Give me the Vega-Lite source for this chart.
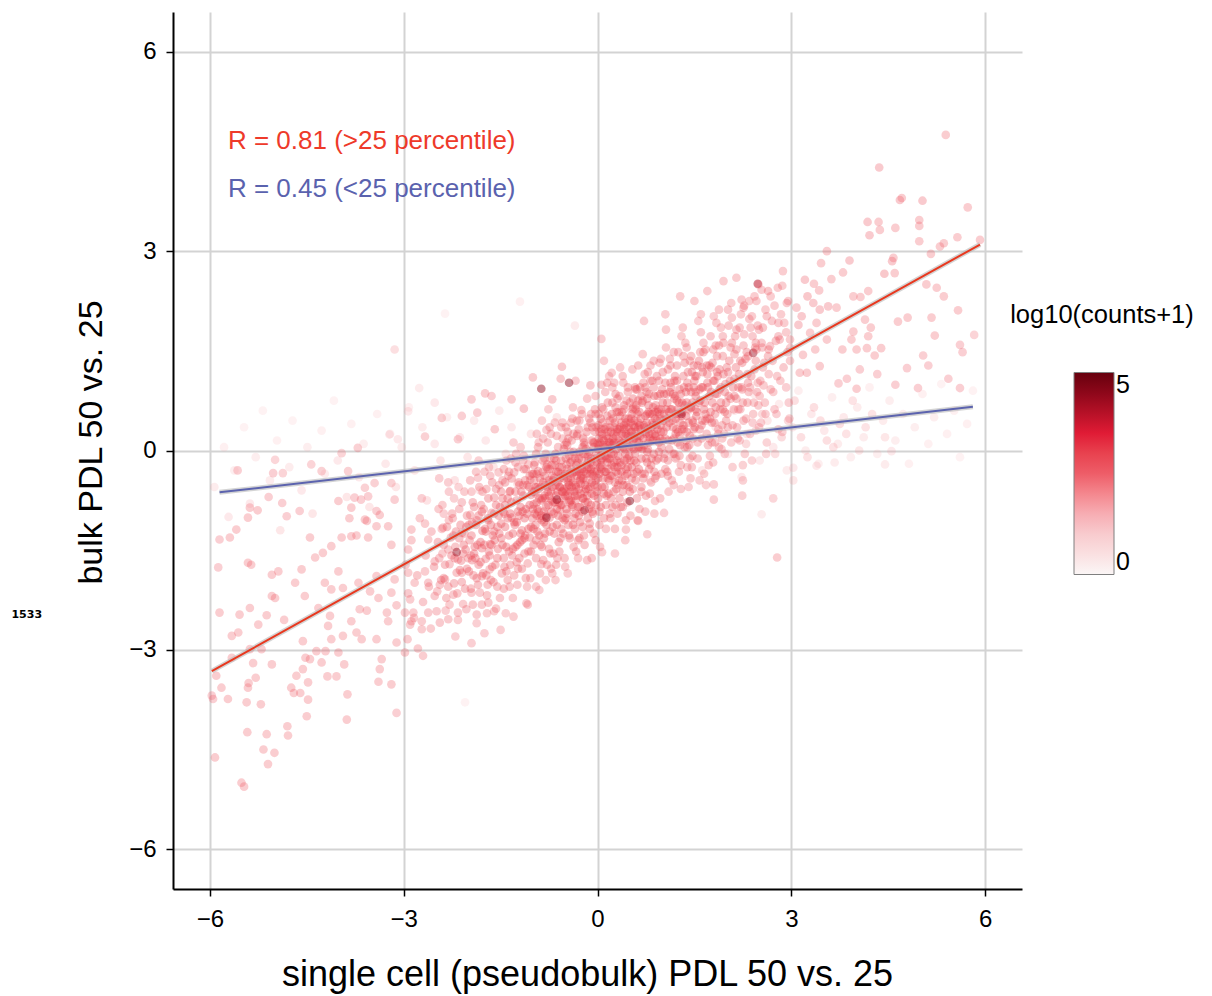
{
"$schema": "https://vega.github.io/schema/vega-lite/v6.json",
"width": 849,
"height": 877,
"autosize": "none",
"padding": {"left": 173, "top": 12, "right": 190, "bottom": 107},
"background": "white",
"config": {
  "view": {"stroke": null},
  "font": "Liberation Sans",
  "axis": {"grid": true, "gridColor": "#d3d3d3", "gridWidth": 2, "domainColor": "#000000", "domainWidth": 2, "tickColor": "#000000", "tickWidth": 1.5, "tickSize": 7, "labelFontSize": 24, "labelColor": "#000000", "labelFont": "Liberation Sans", "titleFont": "Liberation Sans", "titleFontWeight": "normal", "titleColor": "#000000"},
  "axisX": {"titlePadding": 26, "titleFontSize": 36, "labelPadding": 11, "titleX": 414},
  "axisY": {"titlePadding": 20, "titleFontSize": 34, "labelPadding": 10, "titleY": 430},
  "legend": {"orient": "none", "legendX": 837, "legendY": 291, "direction": "vertical", "gradientLength": 202, "gradientThickness": 40, "gradientStrokeColor": "#7f7f7f", "gradientStrokeWidth": 1, "titleFontSize": 25.5, "titleFontWeight": "normal", "titleColor": "#000000", "titleFont": "Liberation Sans", "labelFontSize": 25, "labelFont": "Liberation Sans", "labelColor": "#000000", "labelOffset": 14, "titlePadding": 44, "titleAnchor": "middle", "titleLimit": 300}
},
"datasets": {
"pts": [
{"x":-2.45,"y":-1.62,"c":2.65},{"x":-2.38,"y":-0.95,"c":2.55},{"x":-2.31,"y":-2.05,"c":2.7},{"x":-2.27,"y":-1.31,"c":2.75},{"x":-2.22,"y":-0.72,"c":2.5},{"x":-2.18,"y":-1.84,"c":2.7},{"x":-2.12,"y":-1.12,"c":2.8},{"x":-2.08,"y":-2.31,"c":2.6},{"x":-2.04,"y":-1.49,"c":2.75},{"x":-2.41,"y":-1.18,"c":2.6},{"x":-2.35,"y":-2.41,"c":2.55},{"x":-2.15,"y":-0.55,"c":2.45},{"x":-2.02,"y":-0.98,"c":2.7},{"x":-2.29,"y":-1.71,"c":2.65},{"x":-2.48,"y":-2.12,"c":2.6},{"x":-2.11,"y":-1.66,"c":2.75},{"x":-2.24,"y":-1.02,"c":2.65},
{"x":-1.98,"y":-1.35,"c":2.75},{"x":-1.95,"y":-0.62,"c":2.6},{"x":-1.92,"y":-1.88,"c":2.7},{"x":-1.88,"y":-1.12,"c":2.8},{"x":-1.85,"y":-0.41,"c":2.55},{"x":-1.82,"y":-2.14,"c":2.65},{"x":-1.79,"y":-1.47,"c":2.85},{"x":-1.76,"y":-0.88,"c":2.7},{"x":-1.73,"y":-1.63,"c":2.75},{"x":-1.7,"y":-1.02,"c":2.8},{"x":-1.68,"y":-0.25,"c":2.5},{"x":-1.65,"y":-1.95,"c":2.7},{"x":-1.62,"y":-1.28,"c":2.85},{"x":-1.6,"y":-0.71,"c":2.75},{"x":-1.57,"y":-2.38,"c":2.6},{"x":-1.55,"y":-1.15,"c":2.8},{"x":-1.52,"y":-0.52,"c":2.65},{"x":-1.97,"y":-0.97,"c":2.7},{"x":-1.91,"y":-1.55,"c":2.75},{"x":-1.84,"y":-0.15,"c":2.5},{"x":-1.78,"y":-1.21,"c":2.9},{"x":-1.71,"y":-2.45,"c":2.6},{"x":-1.64,"y":-0.94,"c":2.75},{"x":-1.58,"y":-1.72,"c":2.7},{"x":-1.53,"y":-0.33,"c":2.6},{"x":-1.87,"y":-2.6,"c":2.55},{"x":-1.66,"y":-1.41,"c":2.8},
{"x":-1.49,"y":-1.1,"c":2.85},{"x":-1.47,"y":-0.45,"c":2.65},{"x":-1.45,"y":-1.62,"c":2.75},{"x":-1.43,"y":-0.82,"c":2.8},{"x":-1.41,"y":-0.15,"c":2.55},{"x":-1.39,"y":-1.95,"c":2.7},{"x":-1.37,"y":-1.28,"c":2.85},{"x":-1.35,"y":-0.61,"c":2.75},{"x":-1.33,"y":-1.01,"c":2.9},{"x":-1.31,"y":-2.22,"c":2.6},{"x":-1.29,"y":-0.33,"c":2.65},{"x":-1.27,"y":-1.45,"c":2.8},{"x":-1.25,"y":-0.75,"c":2.75},{"x":-1.23,"y":-1.78,"c":2.7},{"x":-1.21,"y":-0.98,"c":2.85},{"x":-1.19,"y":0.05,"c":2.5},{"x":-1.17,"y":-1.2,"c":2.8},{"x":-1.15,"y":-0.52,"c":2.7},{"x":-1.13,"y":-1.55,"c":2.75},{"x":-1.11,"y":-0.88,"c":2.9},{"x":-1.09,"y":-2.05,"c":2.6},{"x":-1.07,"y":-0.21,"c":2.6},{"x":-1.05,"y":-1.31,"c":2.8},{"x":-1.03,"y":-0.67,"c":2.85},{"x":-1.01,"y":-1.02,"c":2.75},{"x":-1.46,"y":-0.92,"c":2.7},{"x":-1.38,"y":-0.38,"c":2.65},{"x":-1.32,"y":-1.58,"c":2.75},{"x":-1.26,"y":-0.05,"c":2.55},{"x":-1.2,"y":-1.38,"c":2.85},{"x":-1.14,"y":-0.28,"c":2.65},{"x":-1.08,"y":-1.7,"c":2.7},{"x":-1.42,"y":-2.45,"c":2.55},{"x":-1.18,"y":-0.62,"c":2.8},{"x":-1.04,"y":-0.44,"c":2.75},
{"x":-0.99,"y":-0.81,"c":2.85},{"x":-0.97,"y":-0.18,"c":2.65},{"x":-0.95,"y":-1.35,"c":2.75},{"x":-0.93,"y":-0.55,"c":2.9},{"x":-0.91,"y":0.12,"c":2.55},{"x":-0.89,"y":-1.02,"c":2.8},{"x":-0.87,"y":-1.71,"c":2.65},{"x":-0.85,"y":-0.32,"c":2.75},{"x":-0.83,"y":-0.92,"c":2.85},{"x":-0.81,"y":-1.25,"c":2.8},{"x":-0.79,"y":0.31,"c":2.55},{"x":-0.77,"y":-0.62,"c":2.9},{"x":-0.75,"y":-1.48,"c":2.7},{"x":-0.73,"y":-0.12,"c":2.7},{"x":-0.71,"y":-0.75,"c":2.85},{"x":-0.69,"y":-1.15,"c":2.8},{"x":-0.67,"y":-0.41,"c":2.75},{"x":-0.65,"y":-1.95,"c":2.6},{"x":-0.63,"y":-0.88,"c":2.9},{"x":-0.61,"y":0.05,"c":2.65},{"x":-0.59,"y":-0.55,"c":2.8},{"x":-0.57,"y":-1.32,"c":2.75},{"x":-0.55,"y":-0.25,"c":2.7},{"x":-0.53,"y":-0.71,"c":2.95},{"x":-0.51,"y":-1.05,"c":2.8},{"x":-0.98,"y":-0.45,"c":2.75},{"x":-0.94,"y":-0.98,"c":2.85},{"x":-0.9,"y":-2.1,"c":2.55},{"x":-0.86,"y":0.45,"c":2.5},{"x":-0.82,"y":-0.68,"c":2.9},{"x":-0.78,"y":-0.21,"c":2.7},{"x":-0.74,"y":-1.01,"c":2.8},{"x":-0.7,"y":-0.38,"c":2.85},{"x":-0.66,"y":0.42,"c":2.6},{"x":-0.62,"y":-1.62,"c":2.65},{"x":-0.58,"y":-0.9,"c":2.85},{"x":-0.54,"y":0.18,"c":2.6},{"x":-0.52,"y":-0.42,"c":2.9},{"x":-0.96,"y":-0.65,"c":2.8},{"x":-0.88,"y":-1.42,"c":2.7},{"x":-0.8,"y":-0.05,"c":2.65},{"x":-0.72,"y":-1.78,"c":2.6},{"x":-0.64,"y":-0.15,"c":2.75},{"x":-0.56,"y":-1.18,"c":2.8},{"x":-0.76,"y":0.62,"c":2.5},
{"x":-0.49,"y":-0.62,"c":2.9},{"x":-0.47,"y":0.08,"c":2.7},{"x":-0.45,"y":-1.12,"c":2.8},{"x":-0.43,"y":-0.35,"c":2.85},{"x":-0.41,"y":0.42,"c":2.6},{"x":-0.39,"y":-0.85,"c":2.9},{"x":-0.37,"y":-1.45,"c":2.7},{"x":-0.35,"y":-0.12,"c":2.8},{"x":-0.33,"y":-0.55,"c":2.95},{"x":-0.31,"y":0.25,"c":2.65},{"x":-0.29,"y":-0.98,"c":2.85},{"x":-0.27,"y":-0.28,"c":2.8},{"x":-0.25,"y":0.61,"c":2.6},{"x":-0.23,"y":-0.72,"c":2.9},{"x":-0.21,"y":-1.28,"c":2.7},{"x":-0.19,"y":-0.05,"c":2.85},{"x":-0.17,"y":-0.45,"c":2.8},{"x":-0.15,"y":0.35,"c":2.7},{"x":-0.13,"y":-0.88,"c":2.9},{"x":-0.11,"y":-0.18,"c":2.85},{"x":-0.09,"y":-1.62,"c":2.6},{"x":-0.07,"y":0.12,"c":2.75},{"x":-0.05,"y":-0.52,"c":2.95},{"x":-0.03,"y":0.82,"c":2.6},{"x":-0.01,"y":-0.31,"c":2.8},{"x":-0.48,"y":-0.21,"c":2.75},{"x":-0.44,"y":-0.75,"c":2.85},{"x":-0.4,"y":0.15,"c":2.7},{"x":-0.36,"y":-1.02,"c":2.8},{"x":-0.32,"y":-0.38,"c":2.9},{"x":-0.28,"y":0.45,"c":2.65},{"x":-0.24,"y":-0.15,"c":2.85},{"x":-0.2,"y":-0.62,"c":2.8},{"x":-0.16,"y":0.78,"c":2.6},{"x":-0.12,"y":-1.1,"c":2.75},{"x":-0.08,"y":-0.35,"c":2.9},{"x":-0.04,"y":0.28,"c":2.75},{"x":-0.02,"y":-0.82,"c":2.85},{"x":-0.46,"y":-1.85,"c":2.55},{"x":-0.38,"y":0.65,"c":2.6},{"x":-0.3,"y":-1.35,"c":2.7},{"x":-0.22,"y":0.18,"c":2.8},{"x":-0.14,"y":-0.25,"c":2.9},{"x":-0.06,"y":-1.25,"c":2.7},{"x":-0.42,"y":-0.02,"c":2.75},{"x":-0.34,"y":1.05,"c":2.55},{"x":-0.26,"y":-0.5,"c":2.95},{"x":-0.18,"y":0.02,"c":2.8},{"x":-0.1,"y":0.55,"c":2.7},{"x":-0.49,"y":0.35,"c":2.6},
{"x":0.01,"y":-0.42,"c":2.9},{"x":0.03,"y":0.28,"c":2.8},{"x":0.05,"y":-0.85,"c":2.85},{"x":0.07,"y":-0.12,"c":2.95},{"x":0.09,"y":0.62,"c":2.7},{"x":0.11,"y":-0.55,"c":2.9},{"x":0.13,"y":-1.18,"c":2.65},{"x":0.15,"y":0.08,"c":2.85},{"x":0.17,"y":-0.28,"c":2.9},{"x":0.19,"y":0.45,"c":2.75},{"x":0.21,"y":-0.72,"c":2.85},{"x":0.23,"y":0.95,"c":2.6},{"x":0.25,"y":-0.05,"c":2.95},{"x":0.27,"y":-0.48,"c":2.8},{"x":0.29,"y":0.22,"c":2.9},{"x":0.31,"y":-0.95,"c":2.7},{"x":0.33,"y":0.58,"c":2.8},{"x":0.35,"y":-0.18,"c":2.9},{"x":0.37,"y":0.12,"c":2.85},{"x":0.39,"y":-0.62,"c":2.8},{"x":0.41,"y":0.38,"c":2.85},{"x":0.43,"y":-1.35,"c":2.6},{"x":0.45,"y":0.75,"c":2.75},{"x":0.47,"y":-0.25,"c":2.9},{"x":0.49,"y":0.05,"c":2.95},{"x":0.02,"y":0.55,"c":2.7},{"x":0.06,"y":-0.22,"c":2.9},{"x":0.1,"y":0.15,"c":2.85},{"x":0.14,"y":-0.68,"c":2.8},{"x":0.18,"y":1.12,"c":2.55},{"x":0.22,"y":-0.38,"c":2.9},{"x":0.26,"y":0.35,"c":2.8},{"x":0.3,"y":-0.15,"c":2.95},{"x":0.34,"y":0.82,"c":2.65},{"x":0.38,"y":-0.45,"c":2.85},{"x":0.42,"y":0.02,"c":2.9},{"x":0.46,"y":-0.78,"c":2.75},{"x":0.48,"y":0.48,"c":2.8},{"x":0.04,"y":-1.45,"c":2.6},{"x":0.12,"y":0.88,"c":2.65},{"x":0.2,"y":-1.02,"c":2.75},{"x":0.28,"y":0.65,"c":2.75},{"x":0.36,"y":-0.85,"c":2.8},{"x":0.44,"y":0.25,"c":2.9},{"x":0.08,"y":-0.02,"c":2.95},{"x":0.16,"y":-0.42,"c":2.85},{"x":0.24,"y":0.18,"c":2.9},{"x":0.32,"y":-0.35,"c":2.85},{"x":0.4,"y":1.02,"c":2.6},{"x":0.0,"y":0.1,"c":2.85},{"x":0.1,"y":1.35,"c":2.55},{"x":0.35,"y":1.25,"c":2.55},{"x":0.27,"y":-1.55,"c":2.55},{"x":0.45,"y":-0.52,"c":2.85},{"x":0.19,"y":-0.12,"c":2.9},
{"x":0.51,"y":-0.15,"c":2.9},{"x":0.53,"y":0.55,"c":2.8},{"x":0.55,"y":-0.58,"c":2.75},{"x":0.57,"y":0.18,"c":2.95},{"x":0.59,"y":0.92,"c":2.7},{"x":0.61,"y":-0.32,"c":2.85},{"x":0.63,"y":0.42,"c":2.9},{"x":0.65,"y":-0.88,"c":2.65},{"x":0.67,"y":0.05,"c":2.9},{"x":0.69,"y":0.72,"c":2.8},{"x":0.71,"y":-0.42,"c":2.8},{"x":0.73,"y":1.15,"c":2.65},{"x":0.75,"y":0.25,"c":2.95},{"x":0.77,"y":-0.18,"c":2.85},{"x":0.79,"y":0.58,"c":2.85},{"x":0.81,"y":-0.65,"c":2.7},{"x":0.83,"y":0.35,"c":2.9},{"x":0.85,"y":1.05,"c":2.7},{"x":0.87,"y":-0.05,"c":2.85},{"x":0.89,"y":0.48,"c":2.9},{"x":0.91,"y":-0.38,"c":2.75},{"x":0.93,"y":0.82,"c":2.8},{"x":0.95,"y":0.12,"c":2.9},{"x":0.97,"y":-0.72,"c":2.65},{"x":0.99,"y":0.62,"c":2.85},{"x":0.52,"y":0.28,"c":2.9},{"x":0.56,"y":-0.35,"c":2.8},{"x":0.6,"y":0.68,"c":2.85},{"x":0.64,"y":0.12,"c":2.95},{"x":0.68,"y":-0.55,"c":2.75},{"x":0.72,"y":0.38,"c":2.9},{"x":0.76,"y":0.88,"c":2.75},{"x":0.8,"y":-0.28,"c":2.8},{"x":0.84,"y":0.15,"c":2.9},{"x":0.88,"y":-0.95,"c":2.6},{"x":0.92,"y":0.45,"c":2.85},{"x":0.96,"y":1.32,"c":2.6},{"x":0.54,"y":1.22,"c":2.6},{"x":0.62,"y":-1.05,"c":2.6},{"x":0.7,"y":1.45,"c":2.6},{"x":0.78,"y":0.02,"c":2.85},{"x":0.86,"y":0.65,"c":2.85},{"x":0.94,"y":-0.12,"c":2.8},{"x":0.58,"y":-0.05,"c":2.9},{"x":0.66,"y":0.95,"c":2.7},{"x":0.74,"y":-0.92,"c":2.65},{"x":0.82,"y":1.28,"c":2.65},{"x":0.9,"y":0.22,"c":2.9},{"x":0.98,"y":0.38,"c":2.85},{"x":0.63,"y":0.35,"c":2.9},
{"x":1.01,"y":0.15,"c":2.85},{"x":1.03,"y":0.85,"c":2.8},{"x":1.05,"y":-0.28,"c":2.7},{"x":1.07,"y":0.48,"c":2.9},{"x":1.09,"y":1.22,"c":2.7},{"x":1.11,"y":0.02,"c":2.8},{"x":1.13,"y":0.62,"c":2.9},{"x":1.15,"y":-0.45,"c":2.65},{"x":1.17,"y":0.35,"c":2.85},{"x":1.19,"y":1.05,"c":2.8},{"x":1.21,"y":-0.12,"c":2.75},{"x":1.23,"y":0.75,"c":2.9},{"x":1.25,"y":1.48,"c":2.65},{"x":1.27,"y":0.22,"c":2.85},{"x":1.29,"y":-0.58,"c":2.6},{"x":1.31,"y":0.58,"c":2.9},{"x":1.33,"y":1.12,"c":2.75},{"x":1.35,"y":0.05,"c":2.75},{"x":1.37,"y":0.88,"c":2.85},{"x":1.39,"y":-0.25,"c":2.65},{"x":1.41,"y":0.42,"c":2.85},{"x":1.43,"y":1.35,"c":2.7},{"x":1.45,"y":0.65,"c":2.9},{"x":1.47,"y":-0.08,"c":2.7},{"x":1.49,"y":0.95,"c":2.85},{"x":1.02,"y":0.45,"c":2.9},{"x":1.06,"y":1.55,"c":2.6},{"x":1.1,"y":-0.62,"c":2.6},{"x":1.14,"y":0.95,"c":2.8},{"x":1.18,"y":0.18,"c":2.85},{"x":1.22,"y":0.55,"c":2.9},{"x":1.26,"y":-0.32,"c":2.65},{"x":1.3,"y":1.72,"c":2.6},{"x":1.34,"y":0.32,"c":2.85},{"x":1.38,"y":0.72,"c":2.9},{"x":1.42,"y":0.08,"c":2.75},{"x":1.46,"y":1.18,"c":2.75},{"x":1.04,"y":-0.05,"c":2.75},{"x":1.12,"y":1.38,"c":2.65},{"x":1.2,"y":0.82,"c":2.85},{"x":1.28,"y":0.42,"c":2.9},{"x":1.36,"y":1.62,"c":2.6},{"x":1.44,"y":-0.42,"c":2.6},{"x":1.08,"y":0.72,"c":2.85},{"x":1.24,"y":0.12,"c":2.8},
{"x":1.51,"y":0.35,"c":2.8},{"x":1.53,"y":1.12,"c":2.8},{"x":1.55,"y":-0.12,"c":2.65},{"x":1.57,"y":0.72,"c":2.85},{"x":1.59,"y":1.48,"c":2.7},{"x":1.61,"y":0.18,"c":2.75},{"x":1.63,"y":0.95,"c":2.85},{"x":1.65,"y":-0.35,"c":2.6},{"x":1.67,"y":0.55,"c":2.8},{"x":1.69,"y":1.28,"c":2.75},{"x":1.71,"y":0.08,"c":2.65},{"x":1.73,"y":0.82,"c":2.85},{"x":1.75,"y":1.72,"c":2.65},{"x":1.77,"y":0.42,"c":2.75},{"x":1.79,"y":-0.18,"c":2.6},{"x":1.81,"y":1.05,"c":2.85},{"x":1.83,"y":0.65,"c":2.8},{"x":1.85,"y":1.42,"c":2.75},{"x":1.87,"y":0.25,"c":2.65},{"x":1.89,"y":0.92,"c":2.85},{"x":1.91,"y":1.85,"c":2.6},{"x":1.93,"y":0.38,"c":2.7},{"x":1.95,"y":1.15,"c":2.8},{"x":1.97,"y":-0.05,"c":2.55},{"x":1.99,"y":0.72,"c":2.8},{"x":1.52,"y":0.88,"c":2.85},{"x":1.58,"y":-0.45,"c":2.55},{"x":1.64,"y":1.62,"c":2.65},{"x":1.7,"y":0.48,"c":2.8},{"x":1.76,"y":1.25,"c":2.8},{"x":1.82,"y":0.12,"c":2.6},{"x":1.88,"y":1.58,"c":2.7},{"x":1.94,"y":0.62,"c":2.75},{"x":1.56,"y":1.95,"c":2.55},{"x":1.68,"y":-0.52,"c":2.5},{"x":1.8,"y":2.02,"c":2.55},{"x":1.92,"y":0.02,"c":2.55},{"x":1.62,"y":0.45,"c":2.85},
{"x":2.01,"y":0.55,"c":2.7},{"x":2.04,"y":1.35,"c":2.8},{"x":2.07,"y":0.12,"c":2.6},{"x":2.1,"y":0.95,"c":2.8},{"x":2.13,"y":1.72,"c":2.7},{"x":2.16,"y":0.35,"c":2.65},{"x":2.19,"y":1.15,"c":2.8},{"x":2.22,"y":2.05,"c":2.6},{"x":2.25,"y":0.72,"c":2.7},{"x":2.28,"y":-0.05,"c":2.5},{"x":2.31,"y":1.48,"c":2.75},{"x":2.34,"y":0.88,"c":2.7},{"x":2.37,"y":1.85,"c":2.65},{"x":2.4,"y":0.42,"c":2.55},{"x":2.43,"y":1.22,"c":2.75},{"x":2.46,"y":2.25,"c":2.6},{"x":2.49,"y":0.68,"c":2.6},{"x":2.03,"y":1.88,"c":2.65},{"x":2.09,"y":-0.25,"c":2.5},{"x":2.15,"y":1.52,"c":2.75},{"x":2.21,"y":0.62,"c":2.65},{"x":2.27,"y":2.18,"c":2.6},{"x":2.33,"y":1.02,"c":2.75},{"x":2.39,"y":-0.15,"c":2.45},{"x":2.45,"y":1.62,"c":2.7},{"x":2.12,"y":0.82,"c":2.75},{"x":2.24,"y":1.32,"c":2.8},{"x":2.36,"y":0.25,"c":2.55},
{"x":2.52,"y":1.05,"c":2.65},{"x":2.56,"y":1.85,"c":2.7},{"x":2.6,"y":0.55,"c":2.55},{"x":2.64,"y":1.42,"c":2.7},{"x":2.68,"y":2.32,"c":2.6},{"x":2.72,"y":0.88,"c":2.6},{"x":2.76,"y":1.65,"c":2.7},{"x":2.8,"y":0.32,"c":2.5},{"x":2.84,"y":2.05,"c":2.6},{"x":2.88,"y":1.25,"c":2.65},{"x":2.92,"y":1.78,"c":2.6},{"x":2.96,"y":0.72,"c":2.55},{"x":2.54,"y":2.42,"c":2.6},{"x":2.62,"y":0.12,"c":2.45},{"x":2.7,"y":1.95,"c":2.65},{"x":2.78,"y":1.12,"c":2.6},{"x":2.86,"y":2.48,"c":2.6},{"x":2.94,"y":1.48,"c":2.65},{"x":2.58,"y":1.32,"c":2.7},{"x":2.74,"y":0.62,"c":2.55},
{"x":-1.44,"y":-0.95,"c":2.85},{"x":-1.36,"y":-0.62,"c":2.8},{"x":-1.28,"y":-1.12,"c":2.85},{"x":-1.22,"y":-0.48,"c":2.75},{"x":-1.16,"y":-0.92,"c":2.9},{"x":-1.12,"y":-1.28,"c":2.8},{"x":-1.06,"y":-0.55,"c":2.85},{"x":-1.0,"y":-0.88,"c":2.9},{"x":-0.96,"y":-1.12,"c":2.8},{"x":-0.92,"y":-0.31,"c":2.75},{"x":-0.9,"y":-0.72,"c":2.9},{"x":-0.86,"y":-1.05,"c":2.85},{"x":-0.84,"y":-0.48,"c":2.9},{"x":-0.8,"y":-0.85,"c":2.85},{"x":-0.78,"y":-0.55,"c":2.95},{"x":-0.74,"y":-0.28,"c":2.8},{"x":-0.72,"y":-0.62,"c":2.9},{"x":-0.68,"y":-0.95,"c":2.85},{"x":-0.66,"y":-0.22,"c":2.8},{"x":-0.62,"y":-0.48,"c":2.95},{"x":-0.6,"y":-0.78,"c":2.9},{"x":-0.56,"y":-0.15,"c":2.8},{"x":-0.54,"y":-0.62,"c":2.9},{"x":-0.5,"y":-0.35,"c":2.95},{"x":-0.48,"y":-0.88,"c":2.85},{"x":-0.46,"y":-0.42,"c":2.9},{"x":-0.42,"y":-0.62,"c":2.95},{"x":-0.4,"y":-0.15,"c":2.85},{"x":-0.38,"y":-0.48,"c":2.9},{"x":-0.34,"y":-0.75,"c":2.85},{"x":-0.32,"y":-0.05,"c":2.8},{"x":-0.28,"y":-0.32,"c":2.95},{"x":-0.26,"y":-0.65,"c":2.9},{"x":-0.22,"y":-0.42,"c":2.95},{"x":-0.2,"y":0.08,"c":2.8},{"x":-0.16,"y":-0.28,"c":2.9},{"x":-0.14,"y":-0.58,"c":2.85},{"x":-0.1,"y":-0.12,"c":2.95},{"x":-0.08,"y":0.35,"c":2.8},{"x":-0.06,"y":-0.38,"c":2.9},{"x":-0.02,"y":-0.05,"c":2.95},{"x":0.0,"y":-0.55,"c":2.85},{"x":0.02,"y":0.18,"c":2.9},{"x":0.06,"y":-0.28,"c":2.95},{"x":0.08,"y":0.42,"c":2.8},{"x":0.12,"y":-0.08,"c":2.95},{"x":0.14,"y":0.22,"c":2.9},{"x":0.18,"y":-0.45,"c":2.85},{"x":0.2,"y":0.12,"c":2.95},{"x":0.24,"y":0.48,"c":2.85},{"x":0.26,"y":-0.18,"c":2.9},{"x":0.3,"y":0.28,"c":2.95},{"x":0.32,"y":-0.52,"c":2.8},{"x":0.36,"y":0.05,"c":2.9},{"x":0.38,"y":0.58,"c":2.8},{"x":0.42,"y":0.22,"c":2.95},{"x":0.44,"y":-0.28,"c":2.85},{"x":0.48,"y":0.35,"c":2.9},{"x":0.5,"y":0.72,"c":2.8},{"x":0.54,"y":0.05,"c":2.95},{"x":0.56,"y":0.38,"c":2.9},{"x":0.6,"y":-0.18,"c":2.85},{"x":0.62,"y":0.55,"c":2.9},{"x":0.66,"y":0.22,"c":2.95},{"x":0.68,"y":0.82,"c":2.8},{"x":0.72,"y":0.08,"c":2.9},{"x":0.74,"y":0.52,"c":2.95},{"x":0.78,"y":0.32,"c":2.9},{"x":0.8,"y":0.85,"c":2.8},{"x":0.84,"y":-0.12,"c":2.85},{"x":0.86,"y":0.38,"c":2.95},{"x":0.9,"y":0.68,"c":2.85},{"x":0.92,"y":0.15,"c":2.9},{"x":0.96,"y":0.55,"c":2.9},{"x":1.0,"y":0.92,"c":2.8},{"x":1.02,"y":0.28,"c":2.9},{"x":1.06,"y":0.62,"c":2.9},{"x":1.1,"y":0.15,"c":2.85},{"x":1.12,"y":0.88,"c":2.85},{"x":1.16,"y":0.45,"c":2.9},{"x":1.2,"y":1.12,"c":2.75},{"x":1.22,"y":0.32,"c":2.85},{"x":1.26,"y":0.72,"c":2.9},{"x":1.3,"y":0.52,"c":2.9},{"x":1.34,"y":0.95,"c":2.8},{"x":1.38,"y":0.28,"c":2.8},{"x":1.4,"y":1.18,"c":2.75},{"x":1.44,"y":0.65,"c":2.9},{"x":1.48,"y":0.42,"c":2.85},{"x":1.5,"y":1.05,"c":2.8},{"x":1.54,"y":0.58,"c":2.85},{"x":1.58,"y":0.92,"c":2.85},{"x":1.62,"y":1.25,"c":2.75},{"x":1.66,"y":0.72,"c":2.85},{"x":1.7,"y":1.02,"c":2.8},{"x":1.74,"y":0.48,"c":2.75},{"x":1.78,"y":1.32,"c":2.75},{"x":1.82,"y":0.85,"c":2.8},{"x":1.86,"y":1.12,"c":2.8},{"x":1.9,"y":0.62,"c":2.7},{"x":1.94,"y":1.42,"c":2.7},{"x":1.98,"y":1.0,"c":2.75},{"x":2.02,"y":1.18,"c":2.75},{"x":2.06,"y":0.78,"c":2.7},{"x":2.12,"y":1.45,"c":2.7},{"x":2.18,"y":0.95,"c":2.7},{"x":2.26,"y":1.58,"c":2.65},{"x":2.32,"y":1.15,"c":2.65},{"x":2.4,"y":1.72,"c":2.65},{"x":2.48,"y":1.02,"c":2.6},{"x":2.55,"y":1.55,"c":2.65},{"x":2.65,"y":1.15,"c":2.6},{"x":-1.52,"y":-1.25,"c":2.8},{"x":-1.6,"y":-0.95,"c":2.75},{"x":-1.68,"y":-1.52,"c":2.75},{"x":-1.74,"y":-1.18,"c":2.8},{"x":-1.8,"y":-0.82,"c":2.7},{"x":-1.86,"y":-1.42,"c":2.75},{"x":-1.94,"y":-1.08,"c":2.75},{"x":-2.0,"y":-1.62,"c":2.7},{"x":-2.06,"y":-1.25,"c":2.7},{"x":-2.14,"y":-0.88,"c":2.65},{"x":-2.2,"y":-1.45,"c":2.7},{"x":-2.3,"y":-1.05,"c":2.6},{"x":-2.4,"y":-1.55,"c":2.6},
{"x":-0.98,"y":-0.62,"c":2.95},{"x":-0.94,"y":-0.78,"c":2.9},{"x":-0.88,"y":-0.55,"c":2.95},{"x":-0.82,"y":-0.38,"c":2.9},{"x":-0.76,"y":-0.82,"c":2.95},{"x":-0.7,"y":-0.55,"c":3.0},{"x":-0.64,"y":-0.68,"c":2.95},{"x":-0.58,"y":-0.42,"c":3.0},{"x":-0.52,"y":-0.58,"c":2.95},{"x":-0.47,"y":-0.28,"c":2.9},{"x":-0.44,"y":-0.52,"c":3.0},{"x":-0.39,"y":-0.35,"c":2.95},{"x":-0.36,"y":-0.62,"c":3.0},{"x":-0.31,"y":-0.18,"c":2.9},{"x":-0.27,"y":-0.45,"c":3.0},{"x":-0.24,"y":-0.28,"c":2.95},{"x":-0.19,"y":-0.52,"c":3.0},{"x":-0.15,"y":-0.08,"c":2.9},{"x":-0.11,"y":-0.35,"c":3.0},{"x":-0.07,"y":-0.22,"c":2.95},{"x":-0.03,"y":-0.45,"c":3.0},{"x":0.01,"y":0.02,"c":2.95},{"x":0.05,"y":-0.15,"c":3.0},{"x":0.09,"y":0.08,"c":2.95},{"x":0.13,"y":-0.32,"c":3.0},{"x":0.17,"y":0.18,"c":2.95},{"x":0.21,"y":-0.05,"c":3.0},{"x":0.25,"y":0.25,"c":2.95},{"x":0.29,"y":0.02,"c":3.0},{"x":0.33,"y":0.15,"c":2.95},{"x":0.37,"y":-0.22,"c":2.95},{"x":0.41,"y":0.32,"c":3.0},{"x":0.45,"y":0.12,"c":2.95},{"x":0.49,"y":-0.08,"c":2.95},{"x":0.53,"y":0.28,"c":3.0},{"x":0.57,"y":0.45,"c":2.95},{"x":0.61,"y":0.15,"c":3.0},{"x":0.65,"y":0.38,"c":2.95},{"x":0.69,"y":0.02,"c":2.9},{"x":0.73,"y":0.28,"c":3.0},{"x":0.77,"y":0.55,"c":2.95},{"x":0.81,"y":0.18,"c":2.95},{"x":0.85,"y":0.42,"c":3.0},{"x":0.89,"y":0.25,"c":2.95},{"x":0.93,"y":0.58,"c":2.9},{"x":0.97,"y":0.18,"c":2.9},{"x":-0.99,"y":-0.35,"c":2.9},{"x":-0.91,"y":-0.92,"c":2.9},{"x":-0.85,"y":-0.72,"c":2.95},{"x":-0.79,"y":-0.25,"c":2.9},{"x":-0.73,"y":-0.48,"c":2.95},{"x":-0.67,"y":-0.12,"c":2.85},{"x":-0.61,"y":-0.32,"c":2.95},{"x":-0.55,"y":-0.82,"c":2.9},{"x":-0.49,"y":-0.12,"c":2.9},{"x":-0.43,"y":-0.78,"c":2.9},{"x":-0.37,"y":-0.02,"c":2.85},{"x":-0.33,"y":-0.32,"c":3.0},{"x":-0.29,"y":-0.58,"c":2.95},{"x":-0.23,"y":0.05,"c":2.9},{"x":-0.17,"y":-0.35,"c":3.0},{"x":-0.13,"y":-0.02,"c":2.95},{"x":-0.09,"y":-0.65,"c":2.9},{"x":-0.05,"y":0.12,"c":2.9},{"x":-0.01,"y":-0.18,"c":3.0},{"x":0.03,"y":-0.35,"c":2.95},{"x":0.07,"y":0.25,"c":2.95},{"x":0.11,"y":0.05,"c":3.0},{"x":0.15,"y":-0.18,"c":2.95},{"x":0.19,"y":0.35,"c":2.95},{"x":0.23,"y":0.08,"c":3.0},{"x":0.27,"y":0.42,"c":2.9},{"x":0.31,"y":-0.25,"c":2.95},{"x":0.35,"y":0.35,"c":2.95},{"x":0.39,"y":0.12,"c":3.0},{"x":0.43,"y":0.48,"c":2.9},{"x":0.47,"y":0.22,"c":3.0},{"x":0.51,"y":0.42,"c":2.95},{"x":0.55,"y":0.15,"c":2.95},{"x":0.59,"y":0.62,"c":2.9},{"x":0.63,"y":0.05,"c":2.95},
{"x":-2.97,"y":-1.72,"c":2.65},{"x":-2.93,"y":-2.15,"c":2.65},{"x":-2.88,"y":-1.35,"c":2.6},{"x":-2.84,"y":-2.52,"c":2.6},{"x":-2.79,"y":-1.88,"c":2.7},{"x":-2.75,"y":-1.02,"c":2.6},{"x":-2.7,"y":-2.28,"c":2.65},{"x":-2.66,"y":-1.58,"c":2.7},{"x":-2.61,"y":-2.05,"c":2.7},{"x":-2.57,"y":-1.22,"c":2.65},{"x":-2.53,"y":-1.75,"c":2.75},{"x":-2.49,"y":-2.42,"c":2.65},{"x":-2.46,"y":-0.88,"c":2.6},{"x":-2.42,"y":-1.95,"c":2.75},{"x":-2.38,"y":-1.42,"c":2.75},{"x":-2.34,"y":-2.22,"c":2.7},{"x":-2.3,"y":-0.62,"c":2.55},{"x":-2.26,"y":-1.58,"c":2.8},{"x":-2.22,"y":-2.0,"c":2.75},{"x":-2.19,"y":-1.22,"c":2.8},{"x":-2.16,"y":-2.55,"c":2.6},{"x":-2.13,"y":-1.8,"c":2.8},{"x":-2.1,"y":-0.78,"c":2.65},{"x":-2.07,"y":-1.42,"c":2.85},{"x":-2.05,"y":-2.08,"c":2.75},{"x":-2.03,"y":-1.15,"c":2.8},{"x":-2.58,"y":-2.68,"c":2.6},{"x":-2.72,"y":-0.72,"c":2.55},{"x":-2.9,"y":-2.62,"c":2.6},{"x":-2.45,"y":-0.42,"c":2.55},
{"x":-1.99,"y":-1.82,"c":2.8},{"x":-1.97,"y":-0.45,"c":2.65},{"x":-1.95,"y":-1.28,"c":2.85},{"x":-1.93,"y":-2.32,"c":2.7},{"x":-1.91,"y":-0.85,"c":2.8},{"x":-1.89,"y":-1.62,"c":2.85},{"x":-1.87,"y":-1.05,"c":2.85},{"x":-1.85,"y":-2.02,"c":2.75},{"x":-1.83,"y":-0.55,"c":2.7},{"x":-1.81,"y":-1.38,"c":2.9},{"x":-1.79,"y":-0.92,"c":2.85},{"x":-1.77,"y":-1.85,"c":2.8},{"x":-1.75,"y":-0.32,"c":2.6},{"x":-1.73,"y":-1.22,"c":2.9},{"x":-1.71,"y":-2.18,"c":2.7},{"x":-1.69,"y":-0.72,"c":2.8},{"x":-1.67,"y":-1.58,"c":2.85},{"x":-1.65,"y":-1.12,"c":2.9},{"x":-1.63,"y":-0.48,"c":2.75},{"x":-1.61,"y":-1.98,"c":2.75},{"x":-1.59,"y":-1.35,"c":2.9},{"x":-1.57,"y":-0.82,"c":2.85},{"x":-1.55,"y":-1.62,"c":2.85},{"x":-1.53,"y":-0.98,"c":2.9},{"x":-1.51,"y":-2.22,"c":2.65},{"x":-1.49,"y":-0.62,"c":2.8},{"x":-1.47,"y":-1.42,"c":2.9},{"x":-1.45,"y":-0.28,"c":2.7},{"x":-1.43,"y":-1.15,"c":2.9},{"x":-1.41,"y":-1.82,"c":2.75},{"x":-1.39,"y":-0.72,"c":2.85},{"x":-1.37,"y":-1.52,"c":2.85},{"x":-1.35,"y":-0.95,"c":2.95},{"x":-1.33,"y":-0.42,"c":2.8},{"x":-1.31,"y":-1.25,"c":2.9},{"x":-1.29,"y":-1.88,"c":2.7},{"x":-1.27,"y":-0.62,"c":2.85},{"x":-1.25,"y":-1.08,"c":2.95},{"x":-1.23,"y":-0.25,"c":2.7},{"x":-1.21,"y":-1.62,"c":2.8},{"x":-1.19,"y":-0.85,"c":2.9},{"x":-1.17,"y":-1.35,"c":2.9},{"x":-1.15,"y":-0.15,"c":2.65},{"x":-1.13,"y":-1.02,"c":2.95},{"x":-1.11,"y":-1.92,"c":2.7},{"x":-1.09,"y":-0.52,"c":2.85},{"x":-1.07,"y":-1.18,"c":2.9},{"x":-1.05,"y":-0.82,"c":2.95},{"x":-1.03,"y":-1.52,"c":2.8},{"x":-1.01,"y":-0.35,"c":2.8},{"x":-1.96,"y":-1.58,"c":2.75},{"x":-1.84,"y":-1.72,"c":2.8},{"x":-1.72,"y":-0.58,"c":2.7},{"x":-1.6,"y":-2.42,"c":2.6},{"x":-1.48,"y":-1.85,"c":2.75},{"x":-1.36,"y":-2.05,"c":2.65},{"x":-1.24,"y":-1.42,"c":2.9},{"x":-1.12,"y":-0.45,"c":2.8},{"x":-1.08,"y":-2.32,"c":2.6},{"x":-1.3,"y":0.12,"c":2.55},
{"x":-0.99,"y":-1.18,"c":2.9},{"x":-0.98,"y":-0.22,"c":2.8},{"x":-0.96,"y":-0.55,"c":2.95},{"x":-0.95,"y":-1.62,"c":2.75},{"x":-0.93,"y":-0.88,"c":2.95},{"x":-0.92,"y":0.05,"c":2.7},{"x":-0.9,"y":-1.28,"c":2.85},{"x":-0.89,"y":-0.42,"c":2.9},{"x":-0.87,"y":-0.75,"c":2.95},{"x":-0.86,"y":-1.45,"c":2.8},{"x":-0.84,"y":0.18,"c":2.65},{"x":-0.83,"y":-1.08,"c":2.9},{"x":-0.81,"y":-0.52,"c":2.95},{"x":-0.8,"y":-0.98,"c":2.95},{"x":-0.78,"y":-1.72,"c":2.7},{"x":-0.77,"y":-0.28,"c":2.85},{"x":-0.75,"y":-0.68,"c":2.95},{"x":-0.74,"y":-1.22,"c":2.85},{"x":-0.72,"y":0.25,"c":2.65},{"x":-0.71,"y":-0.92,"c":2.95},{"x":-0.69,"y":-0.45,"c":2.9},{"x":-0.68,"y":-1.55,"c":2.75},{"x":-0.66,"y":-0.78,"c":2.95},{"x":-0.65,"y":-0.05,"c":2.8},{"x":-0.63,"y":-1.12,"c":2.9},{"x":-0.62,"y":-0.62,"c":3.0},{"x":-0.6,"y":-1.38,"c":2.8},{"x":-0.59,"y":-0.25,"c":2.9},{"x":-0.57,"y":-0.82,"c":2.95},{"x":-0.56,"y":0.35,"c":2.7},{"x":-0.54,"y":-1.02,"c":2.9},{"x":-0.53,"y":-0.38,"c":2.95},{"x":-0.51,"y":-1.62,"c":2.7},{"x":-0.5,"y":-0.68,"c":3.0},{"x":-0.48,"y":0.12,"c":2.8},{"x":-0.47,"y":-0.95,"c":2.95},{"x":-0.45,"y":-0.48,"c":3.0},{"x":-0.44,"y":-1.28,"c":2.8},{"x":-0.42,"y":-0.18,"c":2.9},{"x":-0.41,"y":-0.75,"c":3.0},{"x":-0.39,"y":0.48,"c":2.7},{"x":-0.38,"y":-1.12,"c":2.85},{"x":-0.36,"y":-0.32,"c":2.95},{"x":-0.35,"y":-0.68,"c":3.0},{"x":-0.33,"y":-1.52,"c":2.75},{"x":-0.32,"y":0.22,"c":2.8},{"x":-0.3,"y":-0.85,"c":2.95},{"x":-0.29,"y":-0.12,"c":2.9},{"x":-0.27,"y":-1.08,"c":2.85},{"x":-0.26,"y":-0.42,"c":3.0},{"x":-0.24,"y":0.55,"c":2.7},{"x":-0.23,"y":-0.92,"c":2.9},{"x":-0.21,"y":-0.32,"c":3.0},{"x":-0.2,"y":-1.42,"c":2.75},{"x":-0.18,"y":-0.58,"c":2.95},{"x":-0.17,"y":0.28,"c":2.8},{"x":-0.15,"y":-0.78,"c":2.95},{"x":-0.14,"y":-0.15,"c":2.95},{"x":-0.12,"y":-1.18,"c":2.8},{"x":-0.11,"y":0.42,"c":2.75},{"x":-0.09,"y":-0.48,"c":3.0},{"x":-0.08,"y":-0.92,"c":2.9},{"x":-0.06,"y":0.05,"c":2.95},{"x":-0.05,"y":-0.68,"c":2.95},{"x":-0.03,"y":-1.35,"c":2.75},{"x":-0.02,"y":0.35,"c":2.85},{"x":-0.94,"y":-0.35,"c":2.9},{"x":-0.82,"y":-0.12,"c":2.85},{"x":-0.7,"y":-1.85,"c":2.65},{"x":-0.58,"y":-0.55,"c":3.0},{"x":-0.46,"y":0.28,"c":2.75},{"x":-0.34,"y":-0.95,"c":2.95},{"x":-0.22,"y":-0.72,"c":2.95},{"x":-0.1,"y":-0.28,"c":3.0},{"x":-0.04,"y":0.62,"c":2.7},{"x":-0.16,"y":-1.65,"c":2.65},{"x":-0.28,"y":-0.02,"c":2.9},{"x":-0.4,"y":-0.55,"c":3.0},{"x":-0.52,"y":0.02,"c":2.85},{"x":-0.64,"y":-0.32,"c":2.95},
{"x":0.01,"y":-0.72,"c":2.95},{"x":0.02,"y":0.08,"c":3.0},{"x":0.04,"y":-0.25,"c":3.0},{"x":0.05,"y":0.48,"c":2.85},{"x":0.07,"y":-0.55,"c":2.95},{"x":0.08,"y":0.18,"c":3.0},{"x":0.1,"y":-1.02,"c":2.8},{"x":0.11,"y":-0.32,"c":3.0},{"x":0.13,"y":0.35,"c":2.9},{"x":0.14,"y":-0.12,"c":3.0},{"x":0.16,"y":0.72,"c":2.8},{"x":0.17,"y":-0.65,"c":2.9},{"x":0.19,"y":0.02,"c":3.0},{"x":0.2,"y":-0.38,"c":2.95},{"x":0.22,"y":0.55,"c":2.9},{"x":0.23,"y":-0.85,"c":2.85},{"x":0.25,"y":0.12,"c":3.0},{"x":0.26,"y":-0.25,"c":3.0},{"x":0.28,"y":0.85,"c":2.75},{"x":0.29,"y":-0.58,"c":2.9},{"x":0.31,"y":0.32,"c":3.0},{"x":0.32,"y":-0.08,"c":3.0},{"x":0.34,"y":-0.72,"c":2.85},{"x":0.35,"y":0.52,"c":2.9},{"x":0.37,"y":-0.32,"c":2.95},{"x":0.38,"y":0.25,"c":3.0},{"x":0.4,"y":-0.52,"c":2.9},{"x":0.41,"y":0.68,"c":2.85},{"x":0.43,"y":-0.05,"c":3.0},{"x":0.44,"y":0.42,"c":2.95},{"x":0.46,"y":-0.35,"c":2.95},{"x":0.47,"y":0.95,"c":2.7},{"x":0.49,"y":0.15,"c":3.0},{"x":0.5,"y":-0.62,"c":2.85},{"x":0.52,"y":0.48,"c":2.95},{"x":0.53,"y":-0.25,"c":2.95},{"x":0.55,"y":0.78,"c":2.85},{"x":0.56,"y":0.02,"c":3.0},{"x":0.58,"y":0.35,"c":3.0},{"x":0.59,"y":-0.45,"c":2.85},{"x":0.61,"y":0.92,"c":2.8},{"x":0.62,"y":0.22,"c":3.0},{"x":0.64,"y":-0.28,"c":2.9},{"x":0.65,"y":0.58,"c":2.95},{"x":0.67,"y":0.32,"c":3.0},{"x":0.68,"y":-0.12,"c":2.95},{"x":0.7,"y":0.75,"c":2.9},{"x":0.71,"y":0.18,"c":3.0},{"x":0.73,"y":-0.35,"c":2.85},{"x":0.74,"y":0.95,"c":2.8},{"x":0.76,"y":0.42,"c":3.0},{"x":0.77,"y":-0.02,"c":2.95},{"x":0.79,"y":0.68,"c":2.95},{"x":0.8,"y":0.25,"c":3.0},{"x":0.82,"y":1.05,"c":2.75},{"x":0.83,"y":-0.22,"c":2.85},{"x":0.85,"y":0.55,"c":3.0},{"x":0.86,"y":0.15,"c":2.95},{"x":0.88,"y":0.82,"c":2.9},{"x":0.89,"y":-0.42,"c":2.75},{"x":0.91,"y":0.38,"c":3.0},{"x":0.92,"y":1.12,"c":2.75},{"x":0.94,"y":0.62,"c":2.95},{"x":0.95,"y":-0.02,"c":2.85},{"x":0.97,"y":0.85,"c":2.9},{"x":0.98,"y":0.28,"c":2.95},{"x":0.03,"y":-1.12,"c":2.75},{"x":0.15,"y":1.02,"c":2.7},{"x":0.27,"y":-1.18,"c":2.7},{"x":0.39,"y":1.12,"c":2.7},{"x":0.51,"y":-0.98,"c":2.7},{"x":0.63,"y":1.28,"c":2.7},{"x":0.75,"y":-0.68,"c":2.75},{"x":0.87,"y":1.35,"c":2.65},{"x":0.99,"y":-0.35,"c":2.75},{"x":0.06,"y":0.32,"c":2.95},{"x":0.18,"y":0.12,"c":3.0},{"x":0.3,"y":0.58,"c":2.9},{"x":0.42,"y":-0.15,"c":3.0},{"x":0.54,"y":0.62,"c":2.9},
{"x":1.01,"y":0.72,"c":2.95},{"x":1.03,"y":-0.12,"c":2.8},{"x":1.05,"y":1.02,"c":2.85},{"x":1.07,"y":0.35,"c":2.95},{"x":1.09,"y":-0.38,"c":2.75},{"x":1.11,"y":0.58,"c":2.95},{"x":1.13,"y":1.28,"c":2.75},{"x":1.15,"y":0.15,"c":2.9},{"x":1.17,"y":0.85,"c":2.9},{"x":1.19,"y":-0.05,"c":2.8},{"x":1.21,"y":0.48,"c":2.95},{"x":1.23,"y":1.05,"c":2.85},{"x":1.25,"y":0.28,"c":2.9},{"x":1.27,"y":0.92,"c":2.9},{"x":1.29,"y":-0.22,"c":2.7},{"x":1.31,"y":0.72,"c":2.95},{"x":1.33,"y":0.38,"c":2.9},{"x":1.35,"y":1.32,"c":2.75},{"x":1.37,"y":0.52,"c":2.95},{"x":1.39,"y":0.05,"c":2.75},{"x":1.41,"y":0.95,"c":2.9},{"x":1.43,"y":0.22,"c":2.8},{"x":1.45,"y":1.42,"c":2.7},{"x":1.47,"y":0.72,"c":2.9},{"x":1.49,"y":0.32,"c":2.85},{"x":1.51,"y":1.12,"c":2.85},{"x":1.53,"y":0.52,"c":2.9},{"x":1.55,"y":0.12,"c":2.7},{"x":1.57,"y":1.35,"c":2.8},{"x":1.59,"y":0.75,"c":2.9},{"x":1.61,"y":0.38,"c":2.8},{"x":1.63,"y":1.18,"c":2.85},{"x":1.65,"y":0.62,"c":2.9},{"x":1.67,"y":1.52,"c":2.7},{"x":1.69,"y":0.25,"c":2.7},{"x":1.71,"y":0.95,"c":2.85},{"x":1.73,"y":1.28,"c":2.8},{"x":1.75,"y":0.58,"c":2.8},{"x":1.77,"y":0.12,"c":2.65},{"x":1.79,"y":1.05,"c":2.85},{"x":1.81,"y":0.42,"c":2.75},{"x":1.83,"y":1.58,"c":2.7},{"x":1.85,"y":0.85,"c":2.85},{"x":1.87,"y":0.32,"c":2.65},{"x":1.89,"y":1.22,"c":2.8},{"x":1.91,"y":0.72,"c":2.8},{"x":1.93,"y":0.18,"c":2.6},{"x":1.95,"y":1.62,"c":2.7},{"x":1.97,"y":0.88,"c":2.8},{"x":1.99,"y":0.45,"c":2.7},{"x":1.06,"y":1.82,"c":2.6},{"x":1.18,"y":-0.52,"c":2.65},{"x":1.32,"y":1.85,"c":2.6},{"x":1.46,"y":-0.25,"c":2.65},{"x":1.6,"y":2.05,"c":2.6},{"x":1.74,"y":-0.08,"c":2.6},{"x":1.88,"y":2.12,"c":2.6},{"x":1.24,"y":0.62,"c":2.95},{"x":1.52,"y":0.82,"c":2.9},{"x":1.78,"y":0.72,"c":2.85},
{"x":2.02,"y":0.35,"c":2.65},{"x":2.05,"y":1.05,"c":2.8},{"x":2.08,"y":1.62,"c":2.7},{"x":2.11,"y":0.62,"c":2.7},{"x":2.14,"y":1.25,"c":2.8},{"x":2.17,"y":0.18,"c":2.6},{"x":2.2,"y":1.85,"c":2.65},{"x":2.23,"y":0.95,"c":2.75},{"x":2.26,"y":0.45,"c":2.65},{"x":2.29,"y":1.38,"c":2.75},{"x":2.32,"y":0.72,"c":2.7},{"x":2.35,"y":1.98,"c":2.65},{"x":2.38,"y":1.12,"c":2.75},{"x":2.41,"y":0.55,"c":2.6},{"x":2.44,"y":1.55,"c":2.7},{"x":2.47,"y":0.88,"c":2.65},{"x":2.5,"y":1.82,"c":2.65},{"x":2.53,"y":0.42,"c":2.55},{"x":2.56,"y":1.25,"c":2.7},{"x":2.59,"y":0.72,"c":2.6},{"x":2.62,"y":2.02,"c":2.65},{"x":2.65,"y":1.52,"c":2.7},{"x":2.68,"y":0.92,"c":2.6},{"x":2.71,"y":1.35,"c":2.65},{"x":2.74,"y":2.18,"c":2.6},{"x":2.77,"y":0.55,"c":2.55},{"x":2.8,"y":1.72,"c":2.65},{"x":2.83,"y":1.05,"c":2.6},{"x":2.86,"y":0.28,"c":2.5},{"x":2.89,"y":1.92,"c":2.6},{"x":2.92,"y":0.95,"c":2.55},{"x":2.95,"y":2.25,"c":2.6},{"x":2.98,"y":1.35,"c":2.6},{"x":2.07,"y":2.22,"c":2.6},{"x":2.25,"y":-0.22,"c":2.5},{"x":2.43,"y":2.32,"c":2.6},{"x":2.61,"y":-0.05,"c":2.45},{"x":2.79,"y":2.45,"c":2.6},{"x":2.97,"y":0.48,"c":2.5},{"x":2.15,"y":0.78,"c":2.75},
{"x":-2.47,"y":-1.38,"c":2.75},{"x":-2.44,"y":-2.02,"c":2.65},{"x":-2.4,"y":-0.82,"c":2.6},{"x":-2.36,"y":-1.72,"c":2.75},{"x":-2.33,"y":-1.15,"c":2.75},{"x":-2.29,"y":-2.32,"c":2.6},{"x":-2.25,"y":-0.95,"c":2.7},{"x":-2.21,"y":-1.62,"c":2.8},{"x":-2.17,"y":-2.15,"c":2.7},{"x":-2.14,"y":-1.32,"c":2.8},{"x":-2.1,"y":-1.98,"c":2.75},{"x":-2.06,"y":-0.62,"c":2.6},{"x":-2.02,"y":-1.78,"c":2.8},{"x":-1.99,"y":-1.12,"c":2.8},{"x":-1.96,"y":-2.08,"c":2.7},{"x":-1.93,"y":-0.78,"c":2.75},{"x":-1.9,"y":-1.45,"c":2.85},{"x":-1.87,"y":-1.92,"c":2.75},{"x":-1.84,"y":-0.98,"c":2.8},{"x":-1.81,"y":-1.68,"c":2.8},{"x":-1.78,"y":-0.62,"c":2.7},{"x":-1.75,"y":-1.42,"c":2.85},{"x":-1.72,"y":-1.88,"c":2.75},{"x":-1.69,"y":-1.05,"c":2.85},{"x":-1.66,"y":-0.38,"c":2.65},{"x":-1.63,"y":-1.75,"c":2.8},{"x":-1.6,"y":-1.22,"c":2.85},{"x":-1.57,"y":-0.58,"c":2.75},{"x":-1.54,"y":-1.48,"c":2.85},{"x":-1.51,"y":-0.85,"c":2.8},{"x":-2.38,"y":-1.92,"c":2.7},{"x":-2.23,"y":-1.28,"c":2.8},{"x":-2.08,"y":-1.55,"c":2.8},{"x":-1.94,"y":-1.65,"c":2.8},{"x":-1.79,"y":-2.32,"c":2.65},{"x":-1.64,"y":-1.42,"c":2.85},{"x":-1.55,"y":-2.05,"c":2.7},{"x":-2.31,"y":-0.48,"c":2.55},{"x":-1.88,"y":-0.32,"c":2.6},{"x":-1.7,"y":-2.02,"c":2.7},
{"x":-1.49,"y":-1.32,"c":2.85},{"x":-1.47,"y":-0.72,"c":2.8},{"x":-1.45,"y":-2.08,"c":2.7},{"x":-1.43,"y":-0.48,"c":2.75},{"x":-1.41,"y":-1.45,"c":2.85},{"x":-1.39,"y":-1.02,"c":2.9},{"x":-1.37,"y":-0.32,"c":2.7},{"x":-1.35,"y":-1.72,"c":2.75},{"x":-1.33,"y":-0.78,"c":2.85},{"x":-1.31,"y":-1.48,"c":2.85},{"x":-1.29,"y":-1.08,"c":2.9},{"x":-1.27,"y":-0.18,"c":2.65},{"x":-1.25,"y":-1.68,"c":2.8},{"x":-1.23,"y":-0.92,"c":2.9},{"x":-1.21,"y":-0.52,"c":2.8},{"x":-1.19,"y":-1.25,"c":2.9},{"x":-1.17,"y":-1.78,"c":2.75},{"x":-1.15,"y":-0.68,"c":2.85},{"x":-1.13,"y":-1.32,"c":2.85},{"x":-1.11,"y":-0.28,"c":2.75},{"x":-1.09,"y":-0.95,"c":2.9},{"x":-1.07,"y":-1.52,"c":2.8},{"x":-1.05,"y":-0.38,"c":2.8},{"x":-1.03,"y":-1.15,"c":2.9},{"x":-1.01,"y":-0.62,"c":2.9},{"x":-0.99,"y":-1.42,"c":2.8},{"x":-0.97,"y":-0.95,"c":2.9},{"x":-0.95,"y":-0.05,"c":2.7},{"x":-0.93,"y":-1.22,"c":2.85},{"x":-0.91,"y":-0.58,"c":2.9},{"x":-0.89,"y":-1.85,"c":2.7},{"x":-0.87,"y":-0.98,"c":2.9},{"x":-0.85,"y":-0.15,"c":2.75},{"x":-0.83,"y":-1.32,"c":2.85},{"x":-0.81,"y":-0.72,"c":2.9},{"x":-0.79,"y":-1.12,"c":2.9},{"x":-0.77,"y":0.12,"c":2.65},{"x":-0.75,"y":-0.45,"c":2.9},{"x":-0.73,"y":-1.55,"c":2.75},{"x":-0.71,"y":-0.22,"c":2.8},{"x":-0.69,"y":-0.78,"c":2.9},{"x":-0.67,"y":-1.25,"c":2.85},{"x":-0.65,"y":-0.52,"c":2.9},{"x":-0.63,"y":0.22,"c":2.7},{"x":-0.61,"y":-0.98,"c":2.9},{"x":-0.59,"y":-1.52,"c":2.75},{"x":-0.57,"y":-0.35,"c":2.85},{"x":-0.55,"y":-0.62,"c":2.9},{"x":-0.53,"y":-1.25,"c":2.8},{"x":-0.51,"y":0.08,"c":2.75},{"x":-1.44,"y":-1.75,"c":2.75},{"x":-1.34,"y":-0.12,"c":2.65},{"x":-1.24,"y":-2.02,"c":2.65},{"x":-1.14,"y":-0.08,"c":2.65},{"x":-1.04,"y":-1.92,"c":2.65},{"x":-0.94,"y":0.25,"c":2.65},{"x":-0.84,"y":-1.65,"c":2.7},{"x":-0.74,"y":0.35,"c":2.65},{"x":-0.64,"y":-1.72,"c":2.7},{"x":-0.54,"y":0.42,"c":2.65},
{"x":-0.49,"y":-1.02,"c":2.85},{"x":-0.47,"y":-0.55,"c":2.9},{"x":-0.45,"y":0.18,"c":2.75},{"x":-0.43,"y":-1.32,"c":2.75},{"x":-0.41,"y":-0.42,"c":2.9},{"x":-0.39,"y":-0.82,"c":2.9},{"x":-0.37,"y":0.25,"c":2.75},{"x":-0.35,"y":-1.18,"c":2.8},{"x":-0.33,"y":-0.22,"c":2.9},{"x":-0.31,"y":-0.68,"c":2.9},{"x":-0.29,"y":0.32,"c":2.75},{"x":-0.27,"y":-0.85,"c":2.9},{"x":-0.25,"y":-0.38,"c":2.9},{"x":-0.23,"y":-1.15,"c":2.8},{"x":-0.21,"y":0.12,"c":2.8},{"x":-0.19,"y":-0.78,"c":2.9},{"x":-0.17,"y":-0.22,"c":2.9},{"x":-0.15,"y":-1.02,"c":2.8},{"x":-0.13,"y":0.48,"c":2.75},{"x":-0.11,"y":-0.55,"c":2.9},{"x":-0.09,"y":0.15,"c":2.85},{"x":-0.07,"y":-0.95,"c":2.85},{"x":-0.05,"y":-0.32,"c":2.9},{"x":-0.03,"y":0.55,"c":2.75},{"x":-0.01,"y":-0.62,"c":2.9},{"x":0.01,"y":0.38,"c":2.8},{"x":0.03,"y":-0.92,"c":2.8},{"x":0.05,"y":-0.08,"c":2.9},{"x":0.07,"y":0.65,"c":2.75},{"x":0.09,"y":-0.42,"c":2.9},{"x":0.11,"y":0.32,"c":2.85},{"x":0.13,"y":-0.82,"c":2.8},{"x":0.15,"y":0.52,"c":2.8},{"x":0.17,"y":-0.12,"c":2.9},{"x":0.19,"y":-0.95,"c":2.75},{"x":0.21,"y":0.28,"c":2.9},{"x":0.23,"y":0.72,"c":2.75},{"x":0.25,"y":-0.62,"c":2.8},{"x":0.27,"y":0.12,"c":2.9},{"x":0.29,"y":-0.32,"c":2.9},{"x":0.31,"y":0.78,"c":2.75},{"x":0.33,"y":-0.45,"c":2.85},{"x":0.35,"y":0.08,"c":2.9},{"x":0.37,"y":0.42,"c":2.85},{"x":0.39,"y":-0.85,"c":2.75},{"x":0.41,"y":0.62,"c":2.8},{"x":0.43,"y":-0.38,"c":2.85},{"x":0.45,"y":0.35,"c":2.9},{"x":0.47,"y":0.88,"c":2.7},{"x":0.49,"y":-0.55,"c":2.8},{"x":-0.46,"y":-0.68,"c":2.9},{"x":-0.4,"y":-0.28,"c":2.9},{"x":-0.34,"y":-0.52,"c":2.9},{"x":-0.28,"y":-1.32,"c":2.75},{"x":-0.22,"y":-0.05,"c":2.85},{"x":-0.16,"y":-0.68,"c":2.9},{"x":-0.1,"y":-0.82,"c":2.85},{"x":-0.04,"y":-0.12,"c":2.9},{"x":0.04,"y":0.12,"c":2.9},{"x":0.1,"y":-0.65,"c":2.85},{"x":0.16,"y":0.28,"c":2.9},{"x":0.22,"y":-0.22,"c":2.9},{"x":0.28,"y":-0.82,"c":2.75},{"x":0.34,"y":0.32,"c":2.9},{"x":0.4,"y":0.05,"c":2.9},{"x":0.46,"y":-0.12,"c":2.9},{"x":-0.44,"y":-0.08,"c":2.85},{"x":-0.32,"y":0.45,"c":2.7},{"x":0.26,"y":1.02,"c":2.65},{"x":0.44,"y":-1.05,"c":2.7},
{"x":0.51,"y":0.22,"c":2.9},{"x":0.53,"y":-0.42,"c":2.8},{"x":0.55,"y":0.65,"c":2.85},{"x":0.57,"y":-0.15,"c":2.85},{"x":0.59,"y":0.28,"c":2.9},{"x":0.61,"y":-0.72,"c":2.75},{"x":0.63,"y":0.75,"c":2.8},{"x":0.65,"y":0.05,"c":2.9},{"x":0.67,"y":0.48,"c":2.9},{"x":0.69,"y":-0.35,"c":2.8},{"x":0.71,"y":1.02,"c":2.7},{"x":0.73,"y":0.35,"c":2.9},{"x":0.75,"y":-0.12,"c":2.85},{"x":0.77,"y":0.78,"c":2.8},{"x":0.79,"y":0.12,"c":2.9},{"x":0.81,"y":0.55,"c":2.9},{"x":0.83,"y":-0.48,"c":2.75},{"x":0.85,"y":0.25,"c":2.9},{"x":0.87,"y":0.95,"c":2.75},{"x":0.89,"y":0.58,"c":2.9},{"x":0.91,"y":-0.15,"c":2.8},{"x":0.93,"y":0.32,"c":2.9},{"x":0.95,"y":1.05,"c":2.75},{"x":0.97,"y":0.48,"c":2.9},{"x":0.99,"y":0.05,"c":2.8},{"x":1.01,"y":1.18,"c":2.75},{"x":1.03,"y":0.55,"c":2.9},{"x":1.05,"y":0.18,"c":2.85},{"x":1.07,"y":0.85,"c":2.85},{"x":1.09,"y":-0.15,"c":2.75},{"x":1.11,"y":0.42,"c":2.9},{"x":1.13,"y":1.02,"c":2.8},{"x":1.15,"y":0.62,"c":2.9},{"x":1.17,"y":-0.05,"c":2.75},{"x":1.19,"y":0.78,"c":2.85},{"x":1.21,"y":0.25,"c":2.85},{"x":1.23,"y":1.28,"c":2.75},{"x":1.25,"y":0.55,"c":2.9},{"x":1.27,"y":-0.08,"c":2.7},{"x":1.29,"y":0.85,"c":2.85},{"x":1.31,"y":0.32,"c":2.85},{"x":1.33,"y":1.42,"c":2.7},{"x":1.35,"y":0.68,"c":2.85},{"x":1.37,"y":0.15,"c":2.75},{"x":1.39,"y":1.02,"c":2.8},{"x":1.41,"y":0.62,"c":2.85},{"x":1.43,"y":-0.12,"c":2.65},{"x":1.45,"y":0.88,"c":2.85},{"x":1.47,"y":0.45,"c":2.8},{"x":1.49,"y":1.28,"c":2.75},{"x":0.58,"y":0.95,"c":2.75},{"x":0.68,"y":-0.62,"c":2.7},{"x":0.78,"y":1.18,"c":2.7},{"x":0.88,"y":-0.32,"c":2.75},{"x":0.98,"y":1.38,"c":2.65},{"x":1.08,"y":-0.32,"c":2.7},{"x":1.18,"y":1.48,"c":2.65},{"x":1.28,"y":0.08,"c":2.75},{"x":1.38,"y":1.55,"c":2.65},{"x":1.48,"y":0.18,"c":2.7},
{"x":1.52,"y":0.62,"c":2.8},{"x":1.55,"y":1.28,"c":2.75},{"x":1.58,"y":0.32,"c":2.75},{"x":1.61,"y":0.95,"c":2.8},{"x":1.64,"y":1.48,"c":2.7},{"x":1.67,"y":0.45,"c":2.75},{"x":1.7,"y":1.15,"c":2.8},{"x":1.73,"y":0.18,"c":2.65},{"x":1.76,"y":0.88,"c":2.8},{"x":1.79,"y":1.52,"c":2.7},{"x":1.82,"y":0.55,"c":2.75},{"x":1.85,"y":1.18,"c":2.8},{"x":1.88,"y":0.05,"c":2.6},{"x":1.91,"y":0.95,"c":2.75},{"x":1.94,"y":1.72,"c":2.65},{"x":1.97,"y":0.58,"c":2.7},{"x":2.0,"y":1.25,"c":2.75},{"x":2.03,"y":0.82,"c":2.75},{"x":2.06,"y":1.55,"c":2.7},{"x":2.09,"y":0.38,"c":2.65},{"x":2.12,"y":1.08,"c":2.75},{"x":2.15,"y":1.82,"c":2.65},{"x":2.18,"y":0.62,"c":2.65},{"x":2.21,"y":1.35,"c":2.75},{"x":2.24,"y":0.92,"c":2.7},{"x":2.27,"y":1.75,"c":2.65},{"x":2.3,"y":0.48,"c":2.6},{"x":2.33,"y":1.42,"c":2.7},{"x":2.36,"y":0.95,"c":2.65},{"x":2.39,"y":2.02,"c":2.6},{"x":2.42,"y":0.72,"c":2.6},{"x":2.45,"y":1.35,"c":2.7},{"x":2.48,"y":1.88,"c":2.65},{"x":2.51,"y":0.82,"c":2.6},{"x":2.54,"y":1.62,"c":2.65},{"x":2.57,"y":0.98,"c":2.6},{"x":2.6,"y":2.12,"c":2.6},{"x":1.6,"y":1.78,"c":2.65},{"x":1.72,"y":-0.22,"c":2.6},{"x":1.84,"y":1.92,"c":2.6},{"x":1.96,"y":0.25,"c":2.6},{"x":2.08,"y":2.0,"c":2.6},{"x":2.2,"y":0.15,"c":2.55},{"x":2.35,"y":2.25,"c":2.6},{"x":2.5,"y":0.35,"c":2.55},
{"x":-0.87,"y":0.93,"c":4.5},{"x":-0.44,"y":1.02,"c":4.5},{"x":-2.18,"y":-1.53,"c":4.4},{"x":0.5,"y":-0.76,"c":4.6},{"x":-0.79,"y":-1.01,"c":4.4},{"x":-0.63,"y":-0.74,"c":4.3},{"x":2.41,"y":1.47,"c":4.3},{"x":2.48,"y":2.51,"c":4.2},{"x":1.3,"y":0.55,"c":4.3},{"x":-0.2,"y":-0.9,"c":4.2},
{"x":-0.55,"y":1.26,"c":2.65},{"x":-1.0,"y":1.1,"c":2.6},{"x":-0.57,"y":1.08,"c":2.6},{"x":-0.7,"y":0.77,"c":2.65},{"x":-1.74,"y":0.86,"c":2.6},{"x":-1.14,"y":0.63,"c":2.65},{"x":-2.1,"y":0.52,"c":2.55},{"x":-2.41,"y":0.49,"c":2.5},{"x":-2.16,"y":0.17,"c":2.55},{"x":-2.67,"y":0.21,"c":2.5},{"x":-3.71,"y":0.04,"c":2.5},{"x":-1.59,"y":0.32,"c":2.6},{"x":-1.86,"y":0.57,"c":2.55},{"x":-0.11,"y":0.98,"c":2.65},{"x":0.22,"y":1.17,"c":2.6},{"x":0.06,"y":0.99,"c":2.65},{"x":-1.33,"y":0.77,"c":2.6},{"x":-1.64,"y":0.82,"c":2.55},{"x":-1.95,"y":0.77,"c":2.55},{"x":0.06,"y":1.68,"c":2.55},
{"x":1.28,"y":2.32,"c":2.6},{"x":1.5,"y":2.25,"c":2.6},{"x":1.05,"y":2.05,"c":2.55},{"x":0.72,"y":1.95,"c":2.55},{"x":1.7,"y":2.4,"c":2.6},{"x":1.95,"y":2.55,"c":2.6},{"x":2.15,"y":2.6,"c":2.6},
{"x":-1.3,"y":-2.5,"c":2.6},{"x":-1.1,"y":-2.3,"c":2.6},{"x":-0.95,"y":-2.05,"c":2.6},{"x":-1.5,"y":-2.7,"c":2.55},{"x":-1.75,"y":-2.75,"c":2.55},{"x":-0.8,"y":-1.95,"c":2.6},{"x":-1.95,"y":-2.9,"c":2.55},{"x":-2.2,"y":-2.8,"c":2.55},{"x":-0.5,"y":-1.75,"c":2.6},{"x":-0.3,"y":-1.62,"c":2.6},
{"x":2.78,"y":-1.61,"c":2.6},{"x":2.72,"y":-0.72,"c":2.4},{"x":2.24,"y":-0.68,"c":2.5},{"x":1.8,"y":-0.51,"c":2.55},{"x":1.8,"y":-0.74,"c":2.55},{"x":1.41,"y":-0.55,"c":2.55},{"x":1.03,"y":-0.94,"c":2.55},{"x":0.77,"y":-1.26,"c":2.55},{"x":0.44,"y":-1.19,"c":2.6},{"x":0.07,"y":-1.53,"c":2.6},{"x":0.63,"y":-1.06,"c":2.6},{"x":0.89,"y":-0.76,"c":2.6},{"x":2.25,"y":-0.45,"c":2.5},
{"x":-5.92,"y":-4.62,"c":2.6},{"x":-5.51,"y":-5.0,"c":2.6},{"x":-5.47,"y":-5.06,"c":2.6},{"x":-5.1,"y":-4.72,"c":2.6},{"x":-5.17,"y":-4.5,"c":2.6},{"x":-5.0,"y":-4.55,"c":2.6},{"x":-5.42,"y":-4.24,"c":2.6},{"x":-5.12,"y":-4.27,"c":2.6},{"x":-4.8,"y":-4.15,"c":2.6},{"x":-4.79,"y":-4.29,"c":2.6},{"x":-4.5,"y":-4.0,"c":2.6},{"x":-3.88,"y":-4.05,"c":2.6},{"x":-3.11,"y":-3.95,"c":2.55},{"x":-5.97,"y":-3.69,"c":2.55},{"x":-5.95,"y":-3.74,"c":2.55},{"x":-5.72,"y":-3.74,"c":2.6},{"x":-5.43,"y":-3.79,"c":2.6},{"x":-5.21,"y":-3.82,"c":2.6},{"x":-5.82,"y":-3.57,"c":2.6},{"x":-5.41,"y":-3.57,"c":2.6},{"x":-5.4,"y":-3.5,"c":2.6},{"x":-4.74,"y":-3.57,"c":2.6},{"x":-4.7,"y":-3.65,"c":2.6},{"x":-4.48,"y":-3.49,"c":2.6},{"x":-4.6,"y":-3.65,"c":2.6},{"x":-4.48,"y":-3.75,"c":2.6},{"x":-3.87,"y":-3.67,"c":2.6},{"x":-3.39,"y":-3.48,"c":2.6},{"x":-3.19,"y":-3.52,"c":2.6},{"x":-5.9,"y":-3.39,"c":2.6},{"x":-5.29,"y":-3.42,"c":2.6},{"x":-5.33,"y":-3.2,"c":2.6},{"x":-5.04,"y":-3.22,"c":2.6},{"x":-4.66,"y":-3.39,"c":2.6},{"x":-4.56,"y":-3.29,"c":2.6},{"x":-4.27,"y":-3.19,"c":2.6},{"x":-4.18,"y":-3.4,"c":2.6},{"x":-4.04,"y":-3.4,"c":2.6},{"x":-4.45,"y":-3.14,"c":2.6},{"x":-4.52,"y":-3.12,"c":2.6},{"x":-3.92,"y":-3.22,"c":2.6},{"x":-3.37,"y":-3.29,"c":2.6},{"x":-3.34,"y":-3.14,"c":2.6},{"x":-5.66,"y":-3.12,"c":2.6},{"x":-5.38,"y":-2.99,"c":2.6},{"x":-5.2,"y":-2.99,"c":2.6},{"x":-4.56,"y":-2.87,"c":2.6},{"x":-4.35,"y":-3.02,"c":2.6},{"x":-4.21,"y":-3.02,"c":2.6},{"x":-4.01,"y":-3.04,"c":2.6},{"x":-4.12,"y":-2.84,"c":2.6},{"x":-3.94,"y":-2.79,"c":2.6},{"x":-3.73,"y":-2.74,"c":2.6},{"x":-3.65,"y":-2.84,"c":2.6},{"x":-3.42,"y":-2.84,"c":2.6},{"x":-3.11,"y":-2.89,"c":2.6},{"x":-2.94,"y":-2.84,"c":2.6},{"x":-2.78,"y":-2.98,"c":2.6},{"x":-2.7,"y":-3.09,"c":2.6},{"x":-5.66,"y":-2.79,"c":2.6},{"x":-5.56,"y":-2.74,"c":2.6},{"x":-5.25,"y":-2.62,"c":2.6},{"x":-4.85,"y":-2.55,"c":2.6},{"x":-5.12,"y":-2.48,"c":2.6},{"x":-5.54,"y":-2.47,"c":2.6},{"x":-5.85,"y":-2.44,"c":2.6},{"x":-5.38,"y":-2.37,"c":2.6},{"x":-5.04,"y":-2.19,"c":2.6},{"x":-4.99,"y":-2.22,"c":2.6},{"x":-4.53,"y":-2.19,"c":2.6},{"x":-4.32,"y":-2.37,"c":2.6},{"x":-4.14,"y":-2.49,"c":2.6},{"x":-4.17,"y":-2.64,"c":2.6},{"x":-3.81,"y":-2.57,"c":2.6},{"x":-3.68,"y":-2.39,"c":2.6},{"x":-3.57,"y":-2.41,"c":2.6},{"x":-3.26,"y":-2.44,"c":2.6},{"x":-3.24,"y":-2.57,"c":2.6},{"x":-2.98,"y":-2.44,"c":2.6},{"x":-2.88,"y":-2.57,"c":2.6},{"x":-2.72,"y":-2.69,"c":2.6},{"x":-4.58,"y":-1.79,"c":2.6},{"x":-4.94,"y":-1.82,"c":2.6},{"x":-5.04,"y":-1.87,"c":2.6},{"x":-4.68,"y":-1.99,"c":2.6},{"x":-4.22,"y":-1.99,"c":2.6},{"x":-4.12,"y":-2.09,"c":2.6},{"x":-3.94,"y":-2.07,"c":2.6},{"x":-3.7,"y":-1.99,"c":2.6},{"x":-3.52,"y":-2.12,"c":2.6},{"x":-3.39,"y":-2.22,"c":2.6},{"x":-3.19,"y":-2.14,"c":2.6},{"x":-3.14,"y":-1.94,"c":2.6},{"x":-3.42,"y":-1.89,"c":2.6},{"x":-3.11,"y":-2.33,"c":2.6},{"x":-2.9,"y":-2.24,"c":2.6},{"x":-5.41,"y":-1.69,"c":2.6},{"x":-5.36,"y":-1.72,"c":2.6},{"x":-5.87,"y":-1.76,"c":2.55},{"x":-5.85,"y":-1.34,"c":2.55},{"x":-5.41,"y":-1.01,"c":2.6},{"x":-5.38,"y":-0.86,"c":2.6},{"x":-5.26,"y":-0.9,"c":2.6},{"x":-5.59,"y":-1.19,"c":2.6},{"x":-5.69,"y":-1.31,"c":2.6},{"x":-5.02,"y":-0.34,"c":2.55},{"x":-5.57,"y":-0.3,"c":2.55},{"x":-5.09,"y":-0.7,"c":2.55},{"x":-4.88,"y":-0.79,"c":2.55},{"x":-4.81,"y":-0.99,"c":2.55},{"x":-4.61,"y":-0.91,"c":2.55},{"x":-4.45,"y":-1.31,"c":2.6},{"x":-4.25,"y":-1.54,"c":2.6},{"x":-4.12,"y":-1.44,"c":2.6},{"x":-3.96,"y":-1.31,"c":2.6},{"x":-3.81,"y":-1.29,"c":2.6},{"x":-3.73,"y":-1.28,"c":2.6},{"x":-3.55,"y":-1.31,"c":2.6},{"x":-3.42,"y":-1.14,"c":2.6},{"x":-3.24,"y":-1.14,"c":2.6},{"x":-3.19,"y":-1.42,"c":2.6},{"x":-3.57,"y":-1.06,"c":2.6},{"x":-3.81,"y":-0.86,"c":2.6},{"x":-4.01,"y":-0.76,"c":2.6},{"x":-3.84,"y":-1.02,"c":2.6},{"x":-3.6,"y":-1.04,"c":2.6},{"x":-3.37,"y":-0.97,"c":2.6},{"x":-4.37,"y":-1.61,"c":2.6},{"x":-4.01,"y":-1.82,"c":2.6},
{"x":-2.85,"y":-2.44,"c":2.6},{"x":-2.72,"y":-2.57,"c":2.6},{"x":-2.62,"y":-2.44,"c":2.65},{"x":-2.44,"y":-2.59,"c":2.65},{"x":-2.31,"y":-2.54,"c":2.65},{"x":-2.16,"y":-2.44,"c":2.65},{"x":-2.03,"y":-2.39,"c":2.65},{"x":-1.87,"y":-2.47,"c":2.65},{"x":-1.69,"y":-2.29,"c":2.65},{"x":-1.95,"y":-2.14,"c":2.65},{"x":-2.23,"y":-2.17,"c":2.65},{"x":-2.52,"y":-2.19,"c":2.65},{"x":-2.62,"y":-1.99,"c":2.65},{"x":-2.83,"y":-1.99,"c":2.6},{"x":-2.36,"y":-1.94,"c":2.65},{"x":-2.1,"y":-1.84,"c":2.7},{"x":-1.79,"y":-1.89,"c":2.7},{"x":-2.67,"y":-1.82,"c":2.6},{"x":-2.93,"y":-1.84,"c":2.6},{"x":-1.67,"y":-1.79,"c":2.7},{"x":-2.98,"y":-3.04,"c":2.6},{"x":-2.93,"y":-1.49,"c":2.6},{"x":-2.62,"y":-1.34,"c":2.6},{"x":-2.31,"y":-1.49,"c":2.65},{"x":-2.52,"y":-1.67,"c":2.65},{"x":-2.16,"y":-1.64,"c":2.65},{"x":-2.88,"y":-1.19,"c":2.6},{"x":-2.39,"y":-1.16,"c":2.6},{"x":-2.67,"y":-1.1,"c":2.6},{"x":-2.1,"y":-1.24,"c":2.65},
{"x":-4.27,"y":-0.31,"c":2.5},{"x":-3.76,"y":-0.71,"c":2.55},{"x":-3.66,"y":-0.74,"c":2.55},{"x":-3.55,"y":-0.69,"c":2.55},{"x":-3.42,"y":-0.91,"c":2.55},{"x":-3.86,"y":-0.31,"c":2.5},{"x":-3.6,"y":-0.56,"c":2.5},{"x":-3.45,"y":-0.49,"c":2.5},{"x":-3.19,"y":-0.49,"c":2.5},{"x":-3.14,"y":-0.74,"c":2.55},{"x":-3.96,"y":-0.04,"c":2.45},{"x":-4.43,"y":-0.21,"c":2.45},{"x":-4.99,"y":-0.14,"c":2.4},{"x":-4.87,"y":-0.34,"c":2.45},
{"x":5.39,"y":4.75,"c":2.6},{"x":4.36,"y":4.26,"c":2.65},{"x":4.68,"y":3.77,"c":2.65},{"x":4.71,"y":3.8,"c":2.6},{"x":5.03,"y":3.76,"c":2.65},{"x":4.18,"y":3.44,"c":2.65},{"x":4.35,"y":3.44,"c":2.6},{"x":4.21,"y":3.24,"c":2.65},{"x":4.37,"y":3.32,"c":2.6},{"x":4.61,"y":3.35,"c":2.6},{"x":4.98,"y":3.47,"c":2.6},{"x":4.98,"y":3.38,"c":2.6},{"x":5.73,"y":3.66,"c":2.6},{"x":5.57,"y":3.21,"c":2.6},{"x":4.98,"y":3.15,"c":2.6},{"x":5.92,"y":3.17,"c":2.6},{"x":5.36,"y":3.12,"c":2.6},{"x":5.3,"y":3.07,"c":2.6},{"x":5.16,"y":2.96,"c":2.6},{"x":3.55,"y":3.0,"c":2.6},{"x":3.9,"y":2.86,"c":2.65},{"x":4.56,"y":2.85,"c":2.65},{"x":4.58,"y":2.9,"c":2.6},{"x":4.44,"y":2.66,"c":2.7},{"x":4.6,"y":2.67,"c":2.6},{"x":3.8,"y":2.68,"c":2.6},{"x":3.46,"y":2.82,"c":2.6},{"x":3.62,"y":2.58,"c":2.6},{"x":2.87,"y":2.7,"c":2.6},{"x":3.21,"y":2.57,"c":2.65},{"x":3.35,"y":2.51,"c":2.6},{"x":3.43,"y":2.41,"c":2.6},{"x":4.19,"y":2.4,"c":2.6},{"x":3.96,"y":2.32,"c":2.6},{"x":4.07,"y":2.31,"c":2.6},{"x":5.09,"y":2.5,"c":2.6},{"x":5.25,"y":2.45,"c":2.6},{"x":5.36,"y":2.32,"c":2.6},{"x":5.58,"y":2.11,"c":2.6},{"x":5.17,"y":2.0,"c":2.6},{"x":4.8,"y":2.0,"c":2.6},{"x":4.65,"y":1.94,"c":2.6},{"x":5.22,"y":1.73,"c":2.6},{"x":5.83,"y":1.74,"c":2.45},{"x":5.61,"y":1.59,"c":2.55},{"x":5.65,"y":1.48,"c":2.55},{"x":5.04,"y":1.43,"c":2.55},{"x":5.12,"y":1.28,"c":2.55},{"x":5.43,"y":1.08,"c":2.55},{"x":5.61,"y":0.94,"c":2.55},{"x":4.96,"y":0.94,"c":2.55},{"x":4.61,"y":0.99,"c":2.55},{"x":4.79,"y":1.24,"c":2.55},{"x":4.33,"y":1.15,"c":2.55},{"x":4.19,"y":1.72,"c":2.6},{"x":4.23,"y":1.85,"c":2.6},{"x":4.14,"y":1.97,"c":2.6},{"x":3.96,"y":1.79,"c":2.6},{"x":3.93,"y":1.67,"c":2.6},{"x":4.01,"y":1.52,"c":2.6},{"x":4.17,"y":1.54,"c":2.6},{"x":4.29,"y":1.43,"c":2.6},{"x":4.39,"y":1.54,"c":2.6},{"x":3.79,"y":1.52,"c":2.6},{"x":4.01,"y":0.93,"c":2.6},{"x":4.06,"y":1.22,"c":2.55},{"x":3.86,"y":1.08,"c":2.55},{"x":3.73,"y":1.01,"c":2.55},{"x":3.55,"y":1.67,"c":2.6},{"x":3.37,"y":1.52,"c":2.6},{"x":3.44,"y":1.27,"c":2.6},{"x":3.18,"y":1.44,"c":2.6},{"x":3.13,"y":1.17,"c":2.6},{"x":3.24,"y":1.17,"c":2.6},{"x":2.98,"y":1.54,"c":2.6},{"x":2.98,"y":1.67,"c":2.6},{"x":3.08,"y":2.15,"c":2.6},{"x":3.16,"y":2.02,"c":2.65},{"x":3.11,"y":1.89,"c":2.65},{"x":3.25,"y":2.32,"c":2.7},{"x":3.34,"y":2.22,"c":2.65},{"x":3.44,"y":2.12,"c":2.65},{"x":3.57,"y":2.17,"c":2.65},{"x":3.7,"y":2.15,"c":2.6},{"x":3.39,"y":1.92,"c":2.6},{"x":3.29,"y":1.77,"c":2.6},{"x":2.64,"y":2.4,"c":2.7},{"x":2.49,"y":2.5,"c":2.65},{"x":2.23,"y":2.27,"c":2.65},{"x":2.02,"y":2.12,"c":2.65},{"x":2.26,"y":2.15,"c":2.65},{"x":2.8,"y":1.92,"c":2.65},{"x":2.93,"y":2.22,"c":2.65},{"x":2.82,"y":1.67,"c":2.65},{"x":2.67,"y":1.57,"c":2.65},{"x":2.46,"y":1.52,"c":2.7},
{"x":-5.93,"y":-0.55,"c":1.8},{"x":-5.78,"y":0.05,"c":1.6},{"x":-5.71,"y":-1.0,"c":1.9},{"x":-5.62,"y":-0.3,"c":1.7},{"x":-5.47,"y":0.35,"c":1.5},{"x":-5.38,"y":-0.8,"c":1.9},{"x":-5.29,"y":-0.1,"c":1.7},{"x":-5.18,"y":0.6,"c":1.5},{"x":-5.07,"y":-0.45,"c":1.8},{"x":-4.96,"y":0.15,"c":1.6},{"x":-4.91,"y":-1.2,"c":2.0},{"x":-4.77,"y":-0.25,"c":1.8},{"x":-4.72,"y":0.45,"c":1.5},{"x":-4.58,"y":-0.6,"c":1.9},{"x":-4.49,"y":0.05,"c":1.7},{"x":-4.41,"y":-0.95,"c":2.0},{"x":-4.27,"y":0.3,"c":1.6},{"x":-4.22,"y":-0.35,"c":1.8},{"x":-4.08,"y":0.75,"c":1.5},{"x":-4.02,"y":-0.15,"c":1.9},{"x":-3.88,"y":-0.7,"c":2.0},{"x":-3.81,"y":0.4,"c":1.6},{"x":-3.69,"y":-0.4,"c":1.9},{"x":-3.62,"y":0.1,"c":1.7},{"x":-3.53,"y":-0.85,"c":2.0},{"x":-3.41,"y":0.55,"c":1.6},{"x":-3.28,"y":-0.2,"c":1.9},{"x":-3.21,"y":0.25,"c":1.7},{"x":-3.12,"y":-0.55,"c":2.0},{"x":-3.03,"y":0.05,"c":1.8},{"x":-2.92,"y":0.65,"c":1.6},{"x":-2.83,"y":-0.3,"c":2.0},{"x":-2.71,"y":0.35,"c":1.8},{"x":-2.64,"y":-0.75,"c":2.1},{"x":-2.52,"y":0.1,"c":1.9},{"x":-2.43,"y":-0.15,"c":2.0},{"x":-2.33,"y":0.5,"c":1.7},{"x":-2.21,"y":-0.45,"c":2.1},{"x":-2.13,"y":0.2,"c":1.9},{"x":-2.01,"y":-0.1,"c":2.0},{"x":-1.91,"y":0.45,"c":1.8},{"x":-1.82,"y":-0.6,"c":2.1},{"x":-1.73,"y":0.15,"c":1.9},{"x":-1.61,"y":-0.25,"c":2.0},{"x":-1.52,"y":0.6,"c":1.8},{"x":-1.42,"y":-0.05,"c":2.0},{"x":-1.33,"y":0.35,"c":1.9},{"x":-1.24,"y":-0.5,"c":2.1},{"x":-1.03,"y":0.25,"c":2.0},{"x":-0.82,"y":-0.2,"c":2.1},{"x":-0.63,"y":0.5,"c":2.0},{"x":-0.41,"y":-0.35,"c":2.1},{"x":-0.22,"y":0.2,"c":2.1},{"x":0.02,"y":-0.6,"c":2.1},{"x":0.21,"y":0.45,"c":2.1},{"x":0.43,"y":-0.15,"c":2.1},{"x":0.62,"y":0.7,"c":2.0},{"x":0.81,"y":-0.45,"c":2.1},{"x":1.02,"y":0.3,"c":2.1},{"x":1.23,"y":-0.1,"c":2.0},{"x":1.41,"y":0.6,"c":2.0},{"x":1.62,"y":-0.3,"c":2.0},{"x":1.83,"y":0.35,"c":2.0},{"x":2.02,"y":-0.05,"c":1.9},{"x":2.12,"y":0.6,"c":1.9},{"x":2.23,"y":-0.4,"c":1.9},{"x":2.31,"y":0.25,"c":2.0},{"x":2.42,"y":0.85,"c":1.8},{"x":2.51,"y":-0.15,"c":1.9},{"x":2.63,"y":0.45,"c":2.0},{"x":2.72,"y":0.05,"c":1.9},{"x":2.81,"y":0.7,"c":1.8},{"x":2.93,"y":-0.3,"c":1.8},{"x":3.02,"y":0.35,"c":1.9},{"x":3.11,"y":0.9,"c":1.7},{"x":3.22,"y":0.0,"c":1.8},{"x":3.31,"y":0.55,"c":1.9},{"x":3.42,"y":-0.2,"c":1.7},{"x":3.51,"y":0.3,"c":1.9},{"x":3.63,"y":0.8,"c":1.7},{"x":3.72,"y":0.1,"c":1.8},{"x":3.81,"y":0.5,"c":1.9},{"x":3.92,"y":-0.1,"c":1.7},{"x":4.02,"y":0.65,"c":1.8},{"x":4.12,"y":0.2,"c":1.8},{"x":4.21,"y":0.95,"c":1.6},{"x":4.33,"y":-0.05,"c":1.7},{"x":4.42,"y":0.45,"c":1.8},{"x":4.52,"y":0.75,"c":1.7},{"x":4.61,"y":0.15,"c":1.7},{"x":4.73,"y":0.55,"c":1.7},{"x":4.82,"y":-0.2,"c":1.6},{"x":4.91,"y":0.35,"c":1.7},{"x":5.03,"y":0.85,"c":1.6},{"x":5.12,"y":0.1,"c":1.6},{"x":5.21,"y":0.5,"c":1.7},{"x":5.32,"y":1.0,"c":1.5},{"x":5.41,"y":0.25,"c":1.6},{"x":5.52,"y":0.6,"c":1.6},{"x":5.61,"y":-0.1,"c":1.5},{"x":5.72,"y":0.4,"c":1.6},{"x":5.81,"y":0.9,"c":1.5},
{"x":2.3,"y":0.1,"c":2.3},{"x":2.55,"y":0.55,"c":2.3},{"x":2.75,"y":-0.05,"c":2.2},{"x":2.95,"y":0.45,"c":2.3},{"x":3.15,"y":0.2,"c":2.2},{"x":3.35,"y":0.65,"c":2.2},{"x":3.55,"y":0.15,"c":2.2},{"x":3.75,"y":0.4,"c":2.2},{"x":3.95,"y":0.75,"c":2.1},{"x":4.15,"y":0.35,"c":2.1},{"x":2.45,"y":0.3,"c":2.3},{"x":2.85,"y":0.2,"c":2.3},{"x":3.05,"y":0.75,"c":2.2},{"x":3.25,"y":-0.1,"c":2.1},{"x":3.45,"y":0.45,"c":2.2},{"x":3.65,"y":0.05,"c":2.1},{"x":3.85,"y":0.25,"c":2.1},{"x":4.05,"y":0.0,"c":2.0},{"x":4.25,"y":0.55,"c":2.1},{"x":4.45,"y":0.2,"c":2.0},
{"x":-3.14,"y":1.52,"c":2.2},{"x":-1.2,"y":2.24,"c":1.6},{"x":-2.36,"y":2.06,"c":1.5},{"x":-0.35,"y":1.88,"c":1.8},{"x":-2.52,"y":0.72,"c":1.9},{"x":-2.76,"y":0.94,"c":1.8},{"x":-3.09,"y":0.17,"c":1.9},{"x":-3.22,"y":0.24,"c":1.9},{"x":-2.93,"y":0.59,"c":1.9},{"x":3.03,"y":-0.45,"c":2.0},{"x":3.03,"y":-0.26,"c":1.9},{"x":3.39,"y":-0.23,"c":1.9},{"x":3.67,"y":-0.18,"c":1.8},{"x":4.45,"y":-0.21,"c":1.8},{"x":4.55,"y":-0.01,"c":1.9},{"x":2.54,"y":-0.96,"c":1.8},{"x":-2.05,"y":-3.79,"c":1.5}
]
},
"layer": [
  {
    "data": {"name": "pts"},
    "mark": {"type": "circle", "size": 75, "strokeWidth": 0, "opacity": 1},
    "encoding": {
      "x": {"field": "x", "type": "quantitative", "scale": {"domain": [-6.57, 6.57], "nice": false, "zero": false}, "axis": {"values": [-6, -3, 0, 3, 6], "title": "single cell (pseudobulk) PDL 50 vs. 25", "labelExpr": "datum.value < 0 ? '−' + abs(datum.value) : '' + datum.value"}},
      "y": {"field": "y", "type": "quantitative", "scale": {"domain": [-6.6, 6.6], "nice": false, "zero": false}, "axis": {"values": [-6, -3, 0, 3, 6], "title": "bulk PDL 50 vs. 25", "labelExpr": "datum.value < 0 ? '−' + abs(datum.value) : '' + datum.value"}},
      "color": {"field": "c", "type": "quantitative", "scale": {"domain": [0, 1.25, 2.5, 3.5, 5], "range": ["#fbf6f6", "#f6c0c5", "#ee5d68", "#e01b35", "#67000d"]}, "legend": {"title": "log10(counts+1)", "values": [0, 5], "encode": {"labels": {"baseline": {"value": "middle"}}}}},
      "opacity": {"field": "c", "type": "quantitative", "scale": {"domain": [0, 2, 2.6, 3.0, 4, 5], "range": [0.05, 0.2, 0.3, 0.38, 0.44, 0.5]}, "legend": null}
    }
  },
  {
    "data": {"values": [{"x": -5.97, "y": -3.32}, {"x": 5.92, "y": 3.1}]},
    "mark": {"type": "line", "color": "#b8b8b8", "strokeWidth": 5, "opacity": 0.6},
    "encoding": {"x": {"field": "x", "type": "quantitative"}, "y": {"field": "y", "type": "quantitative"}}
  },
  {
    "data": {"values": [{"x": -5.85, "y": -0.63}, {"x": 5.81, "y": 0.66}]},
    "mark": {"type": "line", "color": "#b8b8b8", "strokeWidth": 5, "opacity": 0.6},
    "encoding": {"x": {"field": "x", "type": "quantitative"}, "y": {"field": "y", "type": "quantitative"}}
  },
  {
    "data": {"values": [{"x": -5.97, "y": -3.32}, {"x": 5.92, "y": 3.1}]},
    "mark": {"type": "line", "color": "#e8381f", "strokeWidth": 2},
    "encoding": {"x": {"field": "x", "type": "quantitative"}, "y": {"field": "y", "type": "quantitative"}}
  },
  {
    "data": {"values": [{"x": -5.85, "y": -0.63}, {"x": 5.81, "y": 0.66}]},
    "mark": {"type": "line", "color": "#5c63ae", "strokeWidth": 2},
    "encoding": {"x": {"field": "x", "type": "quantitative"}, "y": {"field": "y", "type": "quantitative"}}
  },
  {
    "data": {"values": [{"x": -5.72, "y": 4.66, "t": "R = 0.81 (>25 percentile)", "g": "a"}, {"x": -5.72, "y": 3.94, "t": "R = 0.45 (<25 percentile)", "g": "b"}]},
    "mark": {"type": "text", "align": "left", "baseline": "middle", "fontSize": 26, "font": "Liberation Sans"},
    "encoding": {
      "x": {"field": "x", "type": "quantitative"},
      "y": {"field": "y", "type": "quantitative"},
      "text": {"field": "t"},
      "color": {"field": "g", "type": "nominal", "scale": {"domain": ["a", "b"], "range": ["#ee3a2a", "#5a62ae"]}, "legend": null}
    }
  },
  {
    "data": {"values": [{"x": -9.07, "y": -2.47, "t": "1533"}]},
    "mark": {"type": "text", "align": "left", "baseline": "middle", "fontSize": 11, "fontWeight": "bold", "font": "DejaVu Sans", "color": "#000000"},
    "encoding": {"x": {"field": "x", "type": "quantitative"}, "y": {"field": "y", "type": "quantitative"}, "text": {"field": "t"}}
  }
],
"resolve": {"scale": {"color": "independent"}}
}
